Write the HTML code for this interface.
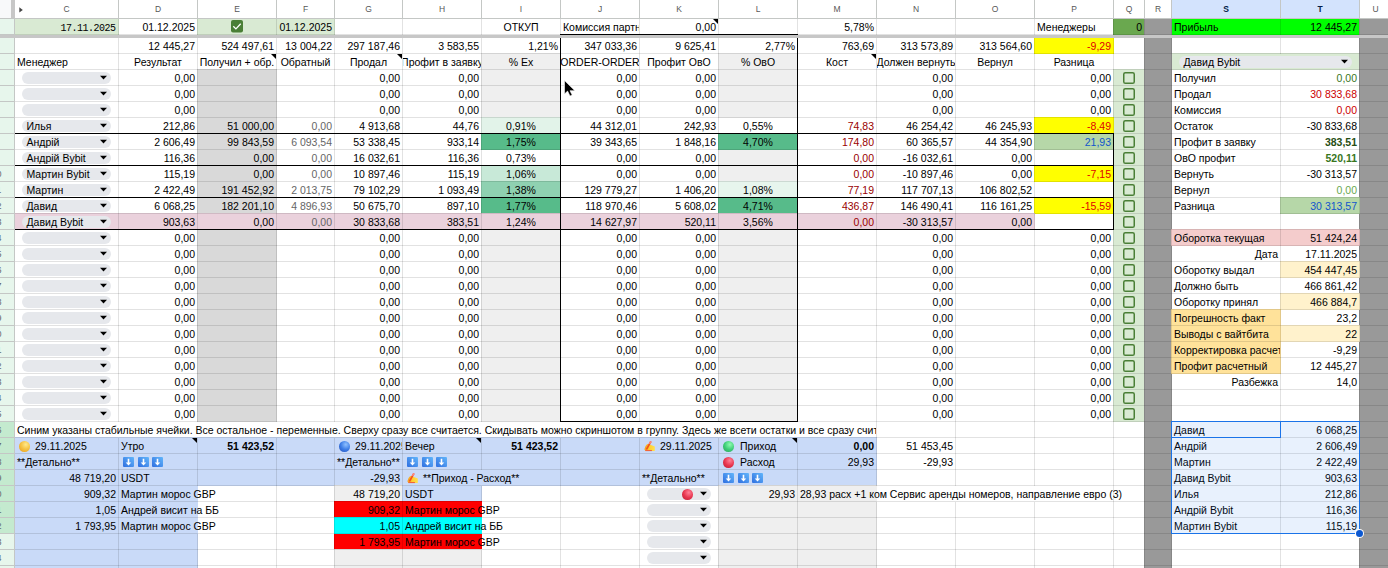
<!DOCTYPE html><html><head><meta charset="utf-8"><style>
*{margin:0;padding:0}
html,body{width:1388px;height:568px;overflow:hidden;background:#fff}
body{position:relative;font-family:"Liberation Sans",sans-serif;font-size:10.5px;color:#000}
body>div,body>svg{position:absolute}
.c{overflow:hidden;white-space:nowrap}
.c span{position:absolute;top:0;line-height:16px;white-space:nowrap}
.h{height:18px;line-height:18px;text-align:center;font-size:8.5px}
</style></head><body><div style="left:14px;top:18px;width:105px;height:17px;background:#d9ead3;"></div>
<div style="left:197px;top:18px;width:80px;height:17px;background:#d9ead3;"></div>
<div style="left:276px;top:18px;width:59px;height:17px;background:#d9ead3;"></div>
<div style="left:1113px;top:18px;width:32px;height:17px;background:#6aa84f;"></div>
<div style="left:1171px;top:18px;width:110px;height:17px;background:#00ff00;"></div>
<div style="left:1280px;top:18px;width:80px;height:17px;background:#00ff00;"></div>
<div style="left:1034px;top:37px;width:80px;height:17px;background:#ffff00;"></div>
<div style="left:1171px;top:53px;width:110px;height:17px;background:#d9ead3;"></div>
<div style="left:1280px;top:53px;width:80px;height:17px;background:#d9ead3;"></div>
<div style="left:481px;top:53px;width:80px;height:17px;background:#efefef;"></div>
<div style="left:718px;top:53px;width:80px;height:17px;background:#efefef;"></div>
<div style="left:197px;top:69px;width:80px;height:17px;background:#d9d9d9;"></div>
<div style="left:197px;top:85px;width:80px;height:17px;background:#d9d9d9;"></div>
<div style="left:197px;top:101px;width:80px;height:17px;background:#d9d9d9;"></div>
<div style="left:197px;top:117px;width:80px;height:17px;background:#d9d9d9;"></div>
<div style="left:197px;top:133px;width:80px;height:17px;background:#d9d9d9;"></div>
<div style="left:197px;top:149px;width:80px;height:17px;background:#d9d9d9;"></div>
<div style="left:197px;top:165px;width:80px;height:17px;background:#d9d9d9;"></div>
<div style="left:197px;top:181px;width:80px;height:17px;background:#d9d9d9;"></div>
<div style="left:197px;top:197px;width:80px;height:17px;background:#d9d9d9;"></div>
<div style="left:197px;top:213px;width:80px;height:17px;background:#ead1dc;"></div>
<div style="left:197px;top:229px;width:80px;height:17px;background:#d9d9d9;"></div>
<div style="left:197px;top:245px;width:80px;height:17px;background:#d9d9d9;"></div>
<div style="left:197px;top:261px;width:80px;height:17px;background:#d9d9d9;"></div>
<div style="left:197px;top:277px;width:80px;height:17px;background:#d9d9d9;"></div>
<div style="left:197px;top:293px;width:80px;height:17px;background:#d9d9d9;"></div>
<div style="left:197px;top:309px;width:80px;height:17px;background:#d9d9d9;"></div>
<div style="left:197px;top:325px;width:80px;height:17px;background:#d9d9d9;"></div>
<div style="left:197px;top:341px;width:80px;height:17px;background:#d9d9d9;"></div>
<div style="left:197px;top:357px;width:80px;height:17px;background:#d9d9d9;"></div>
<div style="left:197px;top:373px;width:80px;height:17px;background:#d9d9d9;"></div>
<div style="left:197px;top:389px;width:80px;height:17px;background:#d9d9d9;"></div>
<div style="left:197px;top:405px;width:80px;height:17px;background:#d9d9d9;"></div>
<div style="left:481px;top:69px;width:80px;height:17px;background:#efefef;"></div>
<div style="left:481px;top:85px;width:80px;height:17px;background:#efefef;"></div>
<div style="left:481px;top:101px;width:80px;height:17px;background:#efefef;"></div>
<div style="left:718px;top:69px;width:80px;height:17px;background:#efefef;"></div>
<div style="left:718px;top:85px;width:80px;height:17px;background:#efefef;"></div>
<div style="left:718px;top:101px;width:80px;height:17px;background:#efefef;"></div>
<div style="left:481px;top:229px;width:80px;height:17px;background:#efefef;"></div>
<div style="left:481px;top:245px;width:80px;height:17px;background:#efefef;"></div>
<div style="left:481px;top:261px;width:80px;height:17px;background:#efefef;"></div>
<div style="left:481px;top:277px;width:80px;height:17px;background:#efefef;"></div>
<div style="left:481px;top:293px;width:80px;height:17px;background:#efefef;"></div>
<div style="left:481px;top:309px;width:80px;height:17px;background:#efefef;"></div>
<div style="left:481px;top:325px;width:80px;height:17px;background:#efefef;"></div>
<div style="left:481px;top:341px;width:80px;height:17px;background:#efefef;"></div>
<div style="left:481px;top:357px;width:80px;height:17px;background:#efefef;"></div>
<div style="left:481px;top:373px;width:80px;height:17px;background:#efefef;"></div>
<div style="left:481px;top:389px;width:80px;height:17px;background:#efefef;"></div>
<div style="left:481px;top:405px;width:80px;height:17px;background:#efefef;"></div>
<div style="left:718px;top:229px;width:80px;height:17px;background:#efefef;"></div>
<div style="left:718px;top:245px;width:80px;height:17px;background:#efefef;"></div>
<div style="left:718px;top:261px;width:80px;height:17px;background:#efefef;"></div>
<div style="left:718px;top:277px;width:80px;height:17px;background:#efefef;"></div>
<div style="left:718px;top:293px;width:80px;height:17px;background:#efefef;"></div>
<div style="left:718px;top:309px;width:80px;height:17px;background:#efefef;"></div>
<div style="left:718px;top:325px;width:80px;height:17px;background:#efefef;"></div>
<div style="left:718px;top:341px;width:80px;height:17px;background:#efefef;"></div>
<div style="left:718px;top:357px;width:80px;height:17px;background:#efefef;"></div>
<div style="left:718px;top:373px;width:80px;height:17px;background:#efefef;"></div>
<div style="left:718px;top:389px;width:80px;height:17px;background:#efefef;"></div>
<div style="left:718px;top:405px;width:80px;height:17px;background:#efefef;"></div>
<div style="left:718px;top:149px;width:80px;height:17px;background:#efefef;"></div>
<div style="left:718px;top:165px;width:80px;height:17px;background:#efefef;"></div>
<div style="left:1113px;top:69px;width:32px;height:17px;background:#d9ead3;"></div>
<div style="left:1113px;top:85px;width:32px;height:17px;background:#d9ead3;"></div>
<div style="left:1113px;top:101px;width:32px;height:17px;background:#d9ead3;"></div>
<div style="left:1113px;top:117px;width:32px;height:17px;background:#d9ead3;"></div>
<div style="left:1113px;top:133px;width:32px;height:17px;background:#d9ead3;"></div>
<div style="left:1113px;top:149px;width:32px;height:17px;background:#d9ead3;"></div>
<div style="left:1113px;top:165px;width:32px;height:17px;background:#d9ead3;"></div>
<div style="left:1113px;top:181px;width:32px;height:17px;background:#d9ead3;"></div>
<div style="left:1113px;top:197px;width:32px;height:17px;background:#d9ead3;"></div>
<div style="left:1113px;top:213px;width:32px;height:17px;background:#d9ead3;"></div>
<div style="left:1113px;top:229px;width:32px;height:17px;background:#d9ead3;"></div>
<div style="left:1113px;top:245px;width:32px;height:17px;background:#d9ead3;"></div>
<div style="left:1113px;top:261px;width:32px;height:17px;background:#d9ead3;"></div>
<div style="left:1113px;top:277px;width:32px;height:17px;background:#d9ead3;"></div>
<div style="left:1113px;top:293px;width:32px;height:17px;background:#d9ead3;"></div>
<div style="left:1113px;top:309px;width:32px;height:17px;background:#d9ead3;"></div>
<div style="left:1113px;top:325px;width:32px;height:17px;background:#d9ead3;"></div>
<div style="left:1113px;top:341px;width:32px;height:17px;background:#d9ead3;"></div>
<div style="left:1113px;top:357px;width:32px;height:17px;background:#d9ead3;"></div>
<div style="left:1113px;top:373px;width:32px;height:17px;background:#d9ead3;"></div>
<div style="left:1113px;top:389px;width:32px;height:17px;background:#d9ead3;"></div>
<div style="left:1113px;top:405px;width:32px;height:17px;background:#d9ead3;"></div>
<div style="left:1144px;top:18px;width:28px;height:17px;background:#999999;"></div>
<div style="left:1144px;top:37px;width:28px;height:17px;background:#999999;"></div>
<div style="left:1144px;top:53px;width:28px;height:17px;background:#999999;"></div>
<div style="left:1144px;top:69px;width:28px;height:17px;background:#999999;"></div>
<div style="left:1144px;top:85px;width:28px;height:17px;background:#999999;"></div>
<div style="left:1144px;top:101px;width:28px;height:17px;background:#999999;"></div>
<div style="left:1144px;top:117px;width:28px;height:17px;background:#999999;"></div>
<div style="left:1144px;top:133px;width:28px;height:17px;background:#999999;"></div>
<div style="left:1144px;top:149px;width:28px;height:17px;background:#999999;"></div>
<div style="left:1144px;top:165px;width:28px;height:17px;background:#999999;"></div>
<div style="left:1144px;top:181px;width:28px;height:17px;background:#999999;"></div>
<div style="left:1144px;top:197px;width:28px;height:17px;background:#999999;"></div>
<div style="left:1144px;top:213px;width:28px;height:17px;background:#999999;"></div>
<div style="left:1144px;top:229px;width:28px;height:17px;background:#999999;"></div>
<div style="left:1144px;top:245px;width:28px;height:17px;background:#999999;"></div>
<div style="left:1144px;top:261px;width:28px;height:17px;background:#999999;"></div>
<div style="left:1144px;top:277px;width:28px;height:17px;background:#999999;"></div>
<div style="left:1144px;top:293px;width:28px;height:17px;background:#999999;"></div>
<div style="left:1144px;top:309px;width:28px;height:17px;background:#999999;"></div>
<div style="left:1144px;top:325px;width:28px;height:17px;background:#999999;"></div>
<div style="left:1144px;top:341px;width:28px;height:17px;background:#999999;"></div>
<div style="left:1144px;top:357px;width:28px;height:17px;background:#999999;"></div>
<div style="left:1144px;top:373px;width:28px;height:17px;background:#999999;"></div>
<div style="left:1144px;top:389px;width:28px;height:17px;background:#999999;"></div>
<div style="left:1144px;top:405px;width:28px;height:17px;background:#999999;"></div>
<div style="left:1144px;top:421px;width:28px;height:17px;background:#999999;"></div>
<div style="left:1144px;top:437px;width:28px;height:17px;background:#999999;"></div>
<div style="left:1144px;top:453px;width:28px;height:17px;background:#999999;"></div>
<div style="left:1144px;top:469px;width:28px;height:17px;background:#999999;"></div>
<div style="left:1144px;top:485px;width:28px;height:17px;background:#999999;"></div>
<div style="left:1144px;top:501px;width:28px;height:17px;background:#999999;"></div>
<div style="left:1144px;top:517px;width:28px;height:17px;background:#999999;"></div>
<div style="left:1144px;top:533px;width:28px;height:17px;background:#999999;"></div>
<div style="left:1144px;top:549px;width:28px;height:17px;background:#999999;"></div>
<div style="left:1144px;top:565px;width:28px;height:17px;background:#999999;"></div>
<div style="left:1359px;top:18px;width:33px;height:17px;background:#999999;"></div>
<div style="left:1359px;top:37px;width:33px;height:17px;background:#999999;"></div>
<div style="left:1359px;top:53px;width:33px;height:17px;background:#999999;"></div>
<div style="left:1359px;top:69px;width:33px;height:17px;background:#999999;"></div>
<div style="left:1359px;top:85px;width:33px;height:17px;background:#999999;"></div>
<div style="left:1359px;top:101px;width:33px;height:17px;background:#999999;"></div>
<div style="left:1359px;top:117px;width:33px;height:17px;background:#999999;"></div>
<div style="left:1359px;top:133px;width:33px;height:17px;background:#999999;"></div>
<div style="left:1359px;top:149px;width:33px;height:17px;background:#999999;"></div>
<div style="left:1359px;top:165px;width:33px;height:17px;background:#999999;"></div>
<div style="left:1359px;top:181px;width:33px;height:17px;background:#999999;"></div>
<div style="left:1359px;top:197px;width:33px;height:17px;background:#999999;"></div>
<div style="left:1359px;top:213px;width:33px;height:17px;background:#999999;"></div>
<div style="left:1359px;top:229px;width:33px;height:17px;background:#999999;"></div>
<div style="left:1359px;top:245px;width:33px;height:17px;background:#999999;"></div>
<div style="left:1359px;top:261px;width:33px;height:17px;background:#999999;"></div>
<div style="left:1359px;top:277px;width:33px;height:17px;background:#999999;"></div>
<div style="left:1359px;top:293px;width:33px;height:17px;background:#999999;"></div>
<div style="left:1359px;top:309px;width:33px;height:17px;background:#999999;"></div>
<div style="left:1359px;top:325px;width:33px;height:17px;background:#999999;"></div>
<div style="left:1359px;top:341px;width:33px;height:17px;background:#999999;"></div>
<div style="left:1359px;top:357px;width:33px;height:17px;background:#999999;"></div>
<div style="left:1359px;top:373px;width:33px;height:17px;background:#999999;"></div>
<div style="left:1359px;top:389px;width:33px;height:17px;background:#999999;"></div>
<div style="left:1359px;top:405px;width:33px;height:17px;background:#999999;"></div>
<div style="left:1359px;top:421px;width:33px;height:17px;background:#999999;"></div>
<div style="left:1359px;top:437px;width:33px;height:17px;background:#999999;"></div>
<div style="left:1359px;top:453px;width:33px;height:17px;background:#999999;"></div>
<div style="left:1359px;top:469px;width:33px;height:17px;background:#999999;"></div>
<div style="left:1359px;top:485px;width:33px;height:17px;background:#999999;"></div>
<div style="left:1359px;top:501px;width:33px;height:17px;background:#999999;"></div>
<div style="left:1359px;top:517px;width:33px;height:17px;background:#999999;"></div>
<div style="left:1359px;top:533px;width:33px;height:17px;background:#999999;"></div>
<div style="left:1359px;top:549px;width:33px;height:17px;background:#999999;"></div>
<div style="left:1359px;top:565px;width:33px;height:17px;background:#999999;"></div>
<div style="left:481px;top:117px;width:80px;height:17px;background:#e2f3e9;"></div>
<div style="left:481px;top:133px;width:80px;height:17px;background:#57bb8a;"></div>
<div style="left:481px;top:165px;width:80px;height:17px;background:#c8e9d8;"></div>
<div style="left:481px;top:181px;width:80px;height:17px;background:#8fd1b1;"></div>
<div style="left:481px;top:197px;width:80px;height:17px;background:#57bb8a;"></div>
<div style="left:718px;top:133px;width:80px;height:17px;background:#57bb8a;"></div>
<div style="left:718px;top:181px;width:80px;height:17px;background:#e7f5ed;"></div>
<div style="left:718px;top:197px;width:80px;height:17px;background:#57bb8a;"></div>
<div style="left:1034px;top:117px;width:80px;height:17px;background:#ffff00;"></div>
<div style="left:1034px;top:165px;width:80px;height:17px;background:#ffff00;"></div>
<div style="left:1034px;top:197px;width:80px;height:17px;background:#ffff00;"></div>
<div style="left:1034px;top:133px;width:80px;height:17px;background:#b6d7a8;"></div>
<div style="left:14px;top:213px;width:105px;height:17px;background:#ead1dc;"></div>
<div style="left:118px;top:213px;width:80px;height:17px;background:#ead1dc;"></div>
<div style="left:276px;top:213px;width:59px;height:17px;background:#ead1dc;"></div>
<div style="left:334px;top:213px;width:69px;height:17px;background:#ead1dc;"></div>
<div style="left:402px;top:213px;width:80px;height:17px;background:#ead1dc;"></div>
<div style="left:481px;top:213px;width:80px;height:17px;background:#ead1dc;"></div>
<div style="left:560px;top:213px;width:80px;height:17px;background:#ead1dc;"></div>
<div style="left:639px;top:213px;width:80px;height:17px;background:#ead1dc;"></div>
<div style="left:718px;top:213px;width:80px;height:17px;background:#ead1dc;"></div>
<div style="left:797px;top:213px;width:80px;height:17px;background:#ead1dc;"></div>
<div style="left:876px;top:213px;width:80px;height:17px;background:#ead1dc;"></div>
<div style="left:955px;top:213px;width:80px;height:17px;background:#ead1dc;"></div>
<div style="left:1280px;top:197px;width:80px;height:17px;background:#b6d7a8;"></div>
<div style="left:1171px;top:229px;width:110px;height:17px;background:#f4cccc;"></div>
<div style="left:1280px;top:229px;width:80px;height:17px;background:#f4cccc;"></div>
<div style="left:1280px;top:261px;width:80px;height:17px;background:#fff2cc;"></div>
<div style="left:1280px;top:293px;width:80px;height:17px;background:#fff2cc;"></div>
<div style="left:1280px;top:325px;width:80px;height:17px;background:#fff2cc;"></div>
<div style="left:1171px;top:309px;width:110px;height:17px;background:#ffe29a;"></div>
<div style="left:1171px;top:325px;width:110px;height:17px;background:#ffe29a;"></div>
<div style="left:1171px;top:341px;width:110px;height:17px;background:#ffe29a;"></div>
<div style="left:1171px;top:357px;width:110px;height:17px;background:#ffe29a;"></div>
<div style="left:14px;top:437px;width:105px;height:17px;background:#c9daf8;"></div>
<div style="left:14px;top:453px;width:105px;height:17px;background:#c9daf8;"></div>
<div style="left:14px;top:469px;width:105px;height:17px;background:#c9daf8;"></div>
<div style="left:118px;top:437px;width:80px;height:17px;background:#c9daf8;"></div>
<div style="left:118px;top:453px;width:80px;height:17px;background:#c9daf8;"></div>
<div style="left:118px;top:469px;width:80px;height:17px;background:#c9daf8;"></div>
<div style="left:197px;top:437px;width:80px;height:17px;background:#c9daf8;"></div>
<div style="left:197px;top:453px;width:80px;height:17px;background:#c9daf8;"></div>
<div style="left:197px;top:469px;width:80px;height:17px;background:#c9daf8;"></div>
<div style="left:276px;top:437px;width:59px;height:17px;background:#c9daf8;"></div>
<div style="left:276px;top:453px;width:59px;height:17px;background:#c9daf8;"></div>
<div style="left:276px;top:469px;width:59px;height:17px;background:#c9daf8;"></div>
<div style="left:334px;top:437px;width:69px;height:17px;background:#c9daf8;"></div>
<div style="left:334px;top:453px;width:69px;height:17px;background:#c9daf8;"></div>
<div style="left:334px;top:469px;width:69px;height:17px;background:#c9daf8;"></div>
<div style="left:402px;top:437px;width:80px;height:17px;background:#c9daf8;"></div>
<div style="left:402px;top:453px;width:80px;height:17px;background:#c9daf8;"></div>
<div style="left:402px;top:469px;width:80px;height:17px;background:#c9daf8;"></div>
<div style="left:481px;top:437px;width:80px;height:17px;background:#c9daf8;"></div>
<div style="left:481px;top:453px;width:80px;height:17px;background:#c9daf8;"></div>
<div style="left:481px;top:469px;width:80px;height:17px;background:#c9daf8;"></div>
<div style="left:560px;top:437px;width:80px;height:17px;background:#c9daf8;"></div>
<div style="left:560px;top:453px;width:80px;height:17px;background:#c9daf8;"></div>
<div style="left:560px;top:469px;width:80px;height:17px;background:#c9daf8;"></div>
<div style="left:639px;top:437px;width:80px;height:17px;background:#c9daf8;"></div>
<div style="left:639px;top:453px;width:80px;height:17px;background:#c9daf8;"></div>
<div style="left:639px;top:469px;width:80px;height:17px;background:#c9daf8;"></div>
<div style="left:718px;top:437px;width:80px;height:17px;background:#c9daf8;"></div>
<div style="left:718px;top:453px;width:80px;height:17px;background:#c9daf8;"></div>
<div style="left:718px;top:469px;width:80px;height:17px;background:#c9daf8;"></div>
<div style="left:797px;top:437px;width:80px;height:17px;background:#c9daf8;"></div>
<div style="left:797px;top:453px;width:80px;height:17px;background:#c9daf8;"></div>
<div style="left:797px;top:469px;width:80px;height:17px;background:#c9daf8;"></div>
<div style="left:14px;top:485px;width:105px;height:17px;background:#c9daf8;"></div>
<div style="left:14px;top:501px;width:105px;height:17px;background:#c9daf8;"></div>
<div style="left:14px;top:517px;width:105px;height:17px;background:#c9daf8;"></div>
<div style="left:14px;top:533px;width:105px;height:17px;background:#c9daf8;"></div>
<div style="left:14px;top:549px;width:105px;height:17px;background:#c9daf8;"></div>
<div style="left:14px;top:565px;width:105px;height:17px;background:#c9daf8;"></div>
<div style="left:118px;top:485px;width:80px;height:17px;background:#c9daf8;"></div>
<div style="left:118px;top:501px;width:80px;height:17px;background:#c9daf8;"></div>
<div style="left:118px;top:517px;width:80px;height:17px;background:#c9daf8;"></div>
<div style="left:118px;top:533px;width:80px;height:17px;background:#c9daf8;"></div>
<div style="left:118px;top:549px;width:80px;height:17px;background:#c9daf8;"></div>
<div style="left:118px;top:565px;width:80px;height:17px;background:#c9daf8;"></div>
<div style="left:334px;top:485px;width:69px;height:17px;background:#efefef;"></div>
<div style="left:402px;top:485px;width:80px;height:17px;background:#c9daf8;"></div>
<div style="left:334px;top:501px;width:69px;height:17px;background:#ff0000;"></div>
<div style="left:334px;top:533px;width:69px;height:17px;background:#ff0000;"></div>
<div style="left:402px;top:501px;width:80px;height:17px;background:#ff0000;"></div>
<div style="left:402px;top:533px;width:80px;height:17px;background:#ff0000;"></div>
<div style="left:334px;top:517px;width:69px;height:17px;background:#00ffff;"></div>
<div style="left:402px;top:517px;width:80px;height:17px;background:#00ffff;"></div>
<div style="left:334px;top:549px;width:69px;height:17px;background:#efefef;"></div>
<div style="left:334px;top:565px;width:69px;height:17px;background:#efefef;"></div>
<div style="left:402px;top:549px;width:80px;height:17px;background:#efefef;"></div>
<div style="left:402px;top:565px;width:80px;height:17px;background:#efefef;"></div>
<div style="left:718px;top:485px;width:80px;height:17px;background:#efefef;"></div>
<div style="left:718px;top:501px;width:80px;height:17px;background:#efefef;"></div>
<div style="left:718px;top:517px;width:80px;height:17px;background:#efefef;"></div>
<div style="left:718px;top:533px;width:80px;height:17px;background:#efefef;"></div>
<div style="left:718px;top:549px;width:80px;height:17px;background:#efefef;"></div>
<div style="left:718px;top:565px;width:80px;height:17px;background:#efefef;"></div>
<div style="left:797px;top:485px;width:80px;height:17px;background:#efefef;"></div>
<div style="left:797px;top:501px;width:80px;height:17px;background:#efefef;"></div>
<div style="left:797px;top:517px;width:80px;height:17px;background:#efefef;"></div>
<div style="left:797px;top:533px;width:80px;height:17px;background:#efefef;"></div>
<div style="left:797px;top:549px;width:80px;height:17px;background:#efefef;"></div>
<div style="left:797px;top:565px;width:80px;height:17px;background:#efefef;"></div>
<div style="left:118px;top:19px;width:1px;height:403px;background:rgba(0,0,0,0.115);"></div>
<div style="left:118px;top:438px;width:1px;height:144px;background:rgba(0,0,0,0.115);"></div>
<div style="left:197px;top:19px;width:1px;height:403px;background:rgba(0,0,0,0.115);"></div>
<div style="left:197px;top:438px;width:1px;height:48px;background:rgba(0,0,0,0.115);"></div>
<div style="left:197px;top:534px;width:1px;height:48px;background:rgba(0,0,0,0.115);"></div>
<div style="left:276px;top:19px;width:1px;height:403px;background:rgba(0,0,0,0.115);"></div>
<div style="left:276px;top:438px;width:1px;height:144px;background:rgba(0,0,0,0.115);"></div>
<div style="left:334px;top:19px;width:1px;height:403px;background:rgba(0,0,0,0.115);"></div>
<div style="left:334px;top:438px;width:1px;height:144px;background:rgba(0,0,0,0.115);"></div>
<div style="left:402px;top:19px;width:1px;height:403px;background:rgba(0,0,0,0.115);"></div>
<div style="left:402px;top:438px;width:1px;height:144px;background:rgba(0,0,0,0.115);"></div>
<div style="left:481px;top:19px;width:1px;height:403px;background:rgba(0,0,0,0.115);"></div>
<div style="left:481px;top:438px;width:1px;height:32px;background:rgba(0,0,0,0.115);"></div>
<div style="left:481px;top:486px;width:1px;height:16px;background:rgba(0,0,0,0.115);"></div>
<div style="left:481px;top:550px;width:1px;height:32px;background:rgba(0,0,0,0.115);"></div>
<div style="left:560px;top:19px;width:1px;height:403px;background:rgba(0,0,0,0.115);"></div>
<div style="left:560px;top:438px;width:1px;height:144px;background:rgba(0,0,0,0.115);"></div>
<div style="left:639px;top:19px;width:1px;height:403px;background:rgba(0,0,0,0.115);"></div>
<div style="left:639px;top:438px;width:1px;height:144px;background:rgba(0,0,0,0.115);"></div>
<div style="left:718px;top:19px;width:1px;height:403px;background:rgba(0,0,0,0.115);"></div>
<div style="left:718px;top:438px;width:1px;height:144px;background:rgba(0,0,0,0.115);"></div>
<div style="left:797px;top:19px;width:1px;height:403px;background:rgba(0,0,0,0.115);"></div>
<div style="left:797px;top:438px;width:1px;height:144px;background:rgba(0,0,0,0.115);"></div>
<div style="left:876px;top:19px;width:1px;height:467px;background:rgba(0,0,0,0.115);"></div>
<div style="left:876px;top:502px;width:1px;height:80px;background:rgba(0,0,0,0.115);"></div>
<div style="left:955px;top:19px;width:1px;height:467px;background:rgba(0,0,0,0.115);"></div>
<div style="left:955px;top:502px;width:1px;height:80px;background:rgba(0,0,0,0.115);"></div>
<div style="left:1034px;top:19px;width:1px;height:467px;background:rgba(0,0,0,0.115);"></div>
<div style="left:1034px;top:502px;width:1px;height:80px;background:rgba(0,0,0,0.115);"></div>
<div style="left:1113px;top:19px;width:1px;height:563px;background:rgba(0,0,0,0.115);"></div>
<div style="left:1144px;top:19px;width:1px;height:563px;background:rgba(0,0,0,0.115);"></div>
<div style="left:1171px;top:19px;width:1px;height:563px;background:rgba(0,0,0,0.115);"></div>
<div style="left:1280px;top:19px;width:1px;height:35px;background:rgba(0,0,0,0.115);"></div>
<div style="left:1280px;top:70px;width:1px;height:512px;background:rgba(0,0,0,0.115);"></div>
<div style="left:1359px;top:19px;width:1px;height:563px;background:rgba(0,0,0,0.115);"></div>
<div style="left:0px;top:34px;width:1388px;height:1px;background:rgba(0,0,0,0.115);"></div>
<div style="left:0px;top:53px;width:1388px;height:1px;background:rgba(0,0,0,0.115);"></div>
<div style="left:0px;top:69px;width:1388px;height:1px;background:rgba(0,0,0,0.115);"></div>
<div style="left:0px;top:85px;width:1388px;height:1px;background:rgba(0,0,0,0.115);"></div>
<div style="left:0px;top:101px;width:1388px;height:1px;background:rgba(0,0,0,0.115);"></div>
<div style="left:0px;top:117px;width:1388px;height:1px;background:rgba(0,0,0,0.115);"></div>
<div style="left:0px;top:133px;width:1388px;height:1px;background:rgba(0,0,0,0.115);"></div>
<div style="left:0px;top:149px;width:1388px;height:1px;background:rgba(0,0,0,0.115);"></div>
<div style="left:0px;top:165px;width:1388px;height:1px;background:rgba(0,0,0,0.115);"></div>
<div style="left:0px;top:181px;width:1388px;height:1px;background:rgba(0,0,0,0.115);"></div>
<div style="left:0px;top:197px;width:1388px;height:1px;background:rgba(0,0,0,0.115);"></div>
<div style="left:0px;top:213px;width:1388px;height:1px;background:rgba(0,0,0,0.115);"></div>
<div style="left:0px;top:229px;width:1388px;height:1px;background:rgba(0,0,0,0.115);"></div>
<div style="left:0px;top:245px;width:1388px;height:1px;background:rgba(0,0,0,0.115);"></div>
<div style="left:0px;top:261px;width:1388px;height:1px;background:rgba(0,0,0,0.115);"></div>
<div style="left:0px;top:277px;width:1388px;height:1px;background:rgba(0,0,0,0.115);"></div>
<div style="left:0px;top:293px;width:1388px;height:1px;background:rgba(0,0,0,0.115);"></div>
<div style="left:0px;top:309px;width:1388px;height:1px;background:rgba(0,0,0,0.115);"></div>
<div style="left:0px;top:325px;width:1388px;height:1px;background:rgba(0,0,0,0.115);"></div>
<div style="left:0px;top:341px;width:1388px;height:1px;background:rgba(0,0,0,0.115);"></div>
<div style="left:0px;top:357px;width:1388px;height:1px;background:rgba(0,0,0,0.115);"></div>
<div style="left:0px;top:373px;width:1388px;height:1px;background:rgba(0,0,0,0.115);"></div>
<div style="left:0px;top:389px;width:1388px;height:1px;background:rgba(0,0,0,0.115);"></div>
<div style="left:0px;top:405px;width:1388px;height:1px;background:rgba(0,0,0,0.115);"></div>
<div style="left:0px;top:421px;width:1388px;height:1px;background:rgba(0,0,0,0.115);"></div>
<div style="left:0px;top:437px;width:1388px;height:1px;background:rgba(0,0,0,0.115);"></div>
<div style="left:0px;top:453px;width:1388px;height:1px;background:rgba(0,0,0,0.115);"></div>
<div style="left:0px;top:469px;width:1388px;height:1px;background:rgba(0,0,0,0.115);"></div>
<div style="left:0px;top:485px;width:1388px;height:1px;background:rgba(0,0,0,0.115);"></div>
<div style="left:0px;top:501px;width:1388px;height:1px;background:rgba(0,0,0,0.115);"></div>
<div style="left:0px;top:517px;width:1388px;height:1px;background:rgba(0,0,0,0.115);"></div>
<div style="left:0px;top:533px;width:1388px;height:1px;background:rgba(0,0,0,0.115);"></div>
<div style="left:0px;top:549px;width:1388px;height:1px;background:rgba(0,0,0,0.115);"></div>
<div style="left:0px;top:565px;width:1388px;height:1px;background:rgba(0,0,0,0.115);"></div>
<div style="left:0px;top:581px;width:1388px;height:1px;background:rgba(0,0,0,0.115);"></div>
<div style="left:560px;top:34px;width:238px;height:1px;background:#000;"></div>
<div style="left:560px;top:34px;width:1px;height:388px;background:#000;"></div>
<div style="left:797px;top:34px;width:1px;height:388px;background:#000;"></div>
<div style="left:560px;top:421px;width:238px;height:1px;background:#000;"></div>
<div style="left:14px;top:133px;width:1100px;height:1px;background:#000;"></div>
<div style="left:14px;top:165px;width:1100px;height:1px;background:#000;"></div>
<div style="left:14px;top:197px;width:1100px;height:1px;background:#000;"></div>
<div style="left:14px;top:229px;width:1100px;height:1px;background:#000;"></div>
<div style="left:1113px;top:133px;width:1px;height:97px;background:#000;"></div>
<div class="c" style="left:15px;top:19px;width:103px;height:15px;"><span style="left:-2000px;width:2103px;text-align:right;padding-right:2.5px;box-sizing:border-box;font-family:'Liberation Mono',monospace;font-size:10px;letter-spacing:-0.5px;top:2px;">17.11.2025</span></div>
<div class="c" style="left:119px;top:19px;width:78px;height:15px;"><span style="left:-2000px;width:2078px;text-align:right;padding-right:2px;box-sizing:border-box;">01.12.2025</span></div>
<div class="c" style="left:277px;top:19px;width:57px;height:15px;"><span style="left:-2000px;width:2057px;text-align:right;padding-right:2px;box-sizing:border-box;">01.12.2025</span></div>
<div class="c" style="left:482px;top:19px;width:78px;height:15px;"><span style="left:-200px;width:478px;text-align:center;">ОТКУП</span></div>
<div class="c" style="left:561px;top:19px;width:78px;height:15px;"><span style="left:0px;width:2000px;text-align:left;padding-left:2px;">Комиссия партн</span></div>
<div class="c" style="left:640px;top:19px;width:78px;height:15px;"><span style="left:-2000px;width:2078px;text-align:right;padding-right:2px;box-sizing:border-box;">0,00</span></div>
<div class="c" style="left:798px;top:19px;width:78px;height:15px;"><span style="left:-2000px;width:2078px;text-align:right;padding-right:2px;box-sizing:border-box;">5,78%</span></div>
<div class="c" style="left:1035px;top:19px;width:78px;height:15px;"><span style="left:0px;width:2000px;text-align:left;padding-left:2px;">Менеджеры</span></div>
<div class="c" style="left:1114px;top:19px;width:30px;height:15px;"><span style="left:-2000px;width:2030px;text-align:right;padding-right:2px;box-sizing:border-box;">0</span></div>
<div class="c" style="left:1172px;top:19px;width:108px;height:15px;"><span style="left:0px;width:2000px;text-align:left;padding-left:2px;">Прибыль</span></div>
<div class="c" style="left:1281px;top:19px;width:78px;height:15px;"><span style="left:-2000px;width:2078px;text-align:right;padding-right:2px;box-sizing:border-box;">12 445,27</span></div>
<div class="c" style="left:119px;top:38px;width:78px;height:15px;"><span style="left:-2000px;width:2078px;text-align:right;padding-right:2px;box-sizing:border-box;">12 445,27</span></div>
<div class="c" style="left:198px;top:38px;width:78px;height:15px;"><span style="left:-2000px;width:2078px;text-align:right;padding-right:2px;box-sizing:border-box;">524 497,61</span></div>
<div class="c" style="left:277px;top:38px;width:57px;height:15px;"><span style="left:-2000px;width:2057px;text-align:right;padding-right:2px;box-sizing:border-box;">13 004,22</span></div>
<div class="c" style="left:335px;top:38px;width:67px;height:15px;"><span style="left:-2000px;width:2067px;text-align:right;padding-right:2px;box-sizing:border-box;">297 187,46</span></div>
<div class="c" style="left:403px;top:38px;width:78px;height:15px;"><span style="left:-2000px;width:2078px;text-align:right;padding-right:2px;box-sizing:border-box;">3 583,55</span></div>
<div class="c" style="left:482px;top:38px;width:78px;height:15px;"><span style="left:-2000px;width:2078px;text-align:right;padding-right:2px;box-sizing:border-box;">1,21%</span></div>
<div class="c" style="left:561px;top:38px;width:78px;height:15px;"><span style="left:-2000px;width:2078px;text-align:right;padding-right:2px;box-sizing:border-box;">347 033,36</span></div>
<div class="c" style="left:640px;top:38px;width:78px;height:15px;"><span style="left:-2000px;width:2078px;text-align:right;padding-right:2px;box-sizing:border-box;">9 625,41</span></div>
<div class="c" style="left:719px;top:38px;width:78px;height:15px;"><span style="left:-2000px;width:2078px;text-align:right;padding-right:2px;box-sizing:border-box;">2,77%</span></div>
<div class="c" style="left:798px;top:38px;width:78px;height:15px;"><span style="left:-2000px;width:2078px;text-align:right;padding-right:2px;box-sizing:border-box;">763,69</span></div>
<div class="c" style="left:877px;top:38px;width:78px;height:15px;"><span style="left:-2000px;width:2078px;text-align:right;padding-right:2px;box-sizing:border-box;">313 573,89</span></div>
<div class="c" style="left:956px;top:38px;width:78px;height:15px;"><span style="left:-2000px;width:2078px;text-align:right;padding-right:2px;box-sizing:border-box;">313 564,60</span></div>
<div class="c" style="left:1035px;top:38px;width:78px;height:15px;"><span style="left:-2000px;width:2078px;text-align:right;padding-right:2px;box-sizing:border-box;color:#e00000;">-9,29</span></div>
<div class="c" style="left:15px;top:54px;width:103px;height:15px;"><span style="left:0px;width:2000px;text-align:left;padding-left:2px;">Менеджер</span></div>
<div class="c" style="left:119px;top:54px;width:78px;height:15px;"><span style="left:-200px;width:478px;text-align:center;">Результат</span></div>
<div class="c" style="left:198px;top:54px;width:78px;height:15px;"><span style="left:-200px;width:478px;text-align:center;">Получил + обр.</span></div>
<div class="c" style="left:277px;top:54px;width:57px;height:15px;"><span style="left:-200px;width:457px;text-align:center;">Обратный</span></div>
<div class="c" style="left:335px;top:54px;width:67px;height:15px;"><span style="left:-200px;width:467px;text-align:center;">Продал</span></div>
<div class="c" style="left:403px;top:54px;width:78px;height:15px;"><span style="left:-200px;width:478px;text-align:center;">Профит в заявку</span></div>
<div class="c" style="left:482px;top:54px;width:78px;height:15px;"><span style="left:-200px;width:478px;text-align:center;">% Ex</span></div>
<div class="c" style="left:561px;top:54px;width:78px;height:15px;"><span style="left:-200px;width:478px;text-align:center;">ORDER-ORDER</span></div>
<div class="c" style="left:640px;top:54px;width:78px;height:15px;"><span style="left:-200px;width:478px;text-align:center;">Профит ОвО</span></div>
<div class="c" style="left:719px;top:54px;width:78px;height:15px;"><span style="left:-200px;width:478px;text-align:center;">% ОвО</span></div>
<div class="c" style="left:798px;top:54px;width:78px;height:15px;"><span style="left:-200px;width:478px;text-align:center;">Кост</span></div>
<div class="c" style="left:877px;top:54px;width:78px;height:15px;"><span style="left:-200px;width:478px;text-align:center;">Должен вернуть</span></div>
<div class="c" style="left:956px;top:54px;width:78px;height:15px;"><span style="left:-200px;width:478px;text-align:center;">Вернул</span></div>
<div class="c" style="left:1035px;top:54px;width:78px;height:15px;"><span style="left:-200px;width:478px;text-align:center;">Разница</span></div>
<div class="c" style="left:119px;top:70px;width:78px;height:15px;"><span style="left:-2000px;width:2078px;text-align:right;padding-right:2px;box-sizing:border-box;">0,00</span></div>
<div class="c" style="left:335px;top:70px;width:67px;height:15px;"><span style="left:-2000px;width:2067px;text-align:right;padding-right:2px;box-sizing:border-box;">0,00</span></div>
<div class="c" style="left:403px;top:70px;width:78px;height:15px;"><span style="left:-2000px;width:2078px;text-align:right;padding-right:2px;box-sizing:border-box;">0,00</span></div>
<div class="c" style="left:561px;top:70px;width:78px;height:15px;"><span style="left:-2000px;width:2078px;text-align:right;padding-right:2px;box-sizing:border-box;">0,00</span></div>
<div class="c" style="left:640px;top:70px;width:78px;height:15px;"><span style="left:-2000px;width:2078px;text-align:right;padding-right:2px;box-sizing:border-box;">0,00</span></div>
<div class="c" style="left:877px;top:70px;width:78px;height:15px;"><span style="left:-2000px;width:2078px;text-align:right;padding-right:2px;box-sizing:border-box;">0,00</span></div>
<div class="c" style="left:1035px;top:70px;width:78px;height:15px;"><span style="left:-2000px;width:2078px;text-align:right;padding-right:2px;box-sizing:border-box;">0,00</span></div>
<div class="c" style="left:119px;top:86px;width:78px;height:15px;"><span style="left:-2000px;width:2078px;text-align:right;padding-right:2px;box-sizing:border-box;">0,00</span></div>
<div class="c" style="left:335px;top:86px;width:67px;height:15px;"><span style="left:-2000px;width:2067px;text-align:right;padding-right:2px;box-sizing:border-box;">0,00</span></div>
<div class="c" style="left:403px;top:86px;width:78px;height:15px;"><span style="left:-2000px;width:2078px;text-align:right;padding-right:2px;box-sizing:border-box;">0,00</span></div>
<div class="c" style="left:561px;top:86px;width:78px;height:15px;"><span style="left:-2000px;width:2078px;text-align:right;padding-right:2px;box-sizing:border-box;">0,00</span></div>
<div class="c" style="left:640px;top:86px;width:78px;height:15px;"><span style="left:-2000px;width:2078px;text-align:right;padding-right:2px;box-sizing:border-box;">0,00</span></div>
<div class="c" style="left:877px;top:86px;width:78px;height:15px;"><span style="left:-2000px;width:2078px;text-align:right;padding-right:2px;box-sizing:border-box;">0,00</span></div>
<div class="c" style="left:1035px;top:86px;width:78px;height:15px;"><span style="left:-2000px;width:2078px;text-align:right;padding-right:2px;box-sizing:border-box;">0,00</span></div>
<div class="c" style="left:119px;top:102px;width:78px;height:15px;"><span style="left:-2000px;width:2078px;text-align:right;padding-right:2px;box-sizing:border-box;">0,00</span></div>
<div class="c" style="left:335px;top:102px;width:67px;height:15px;"><span style="left:-2000px;width:2067px;text-align:right;padding-right:2px;box-sizing:border-box;">0,00</span></div>
<div class="c" style="left:403px;top:102px;width:78px;height:15px;"><span style="left:-2000px;width:2078px;text-align:right;padding-right:2px;box-sizing:border-box;">0,00</span></div>
<div class="c" style="left:561px;top:102px;width:78px;height:15px;"><span style="left:-2000px;width:2078px;text-align:right;padding-right:2px;box-sizing:border-box;">0,00</span></div>
<div class="c" style="left:640px;top:102px;width:78px;height:15px;"><span style="left:-2000px;width:2078px;text-align:right;padding-right:2px;box-sizing:border-box;">0,00</span></div>
<div class="c" style="left:877px;top:102px;width:78px;height:15px;"><span style="left:-2000px;width:2078px;text-align:right;padding-right:2px;box-sizing:border-box;">0,00</span></div>
<div class="c" style="left:1035px;top:102px;width:78px;height:15px;"><span style="left:-2000px;width:2078px;text-align:right;padding-right:2px;box-sizing:border-box;">0,00</span></div>
<div class="c" style="left:119px;top:230px;width:78px;height:15px;"><span style="left:-2000px;width:2078px;text-align:right;padding-right:2px;box-sizing:border-box;">0,00</span></div>
<div class="c" style="left:335px;top:230px;width:67px;height:15px;"><span style="left:-2000px;width:2067px;text-align:right;padding-right:2px;box-sizing:border-box;">0,00</span></div>
<div class="c" style="left:403px;top:230px;width:78px;height:15px;"><span style="left:-2000px;width:2078px;text-align:right;padding-right:2px;box-sizing:border-box;">0,00</span></div>
<div class="c" style="left:561px;top:230px;width:78px;height:15px;"><span style="left:-2000px;width:2078px;text-align:right;padding-right:2px;box-sizing:border-box;">0,00</span></div>
<div class="c" style="left:640px;top:230px;width:78px;height:15px;"><span style="left:-2000px;width:2078px;text-align:right;padding-right:2px;box-sizing:border-box;">0,00</span></div>
<div class="c" style="left:877px;top:230px;width:78px;height:15px;"><span style="left:-2000px;width:2078px;text-align:right;padding-right:2px;box-sizing:border-box;">0,00</span></div>
<div class="c" style="left:1035px;top:230px;width:78px;height:15px;"><span style="left:-2000px;width:2078px;text-align:right;padding-right:2px;box-sizing:border-box;">0,00</span></div>
<div class="c" style="left:119px;top:246px;width:78px;height:15px;"><span style="left:-2000px;width:2078px;text-align:right;padding-right:2px;box-sizing:border-box;">0,00</span></div>
<div class="c" style="left:335px;top:246px;width:67px;height:15px;"><span style="left:-2000px;width:2067px;text-align:right;padding-right:2px;box-sizing:border-box;">0,00</span></div>
<div class="c" style="left:403px;top:246px;width:78px;height:15px;"><span style="left:-2000px;width:2078px;text-align:right;padding-right:2px;box-sizing:border-box;">0,00</span></div>
<div class="c" style="left:561px;top:246px;width:78px;height:15px;"><span style="left:-2000px;width:2078px;text-align:right;padding-right:2px;box-sizing:border-box;">0,00</span></div>
<div class="c" style="left:640px;top:246px;width:78px;height:15px;"><span style="left:-2000px;width:2078px;text-align:right;padding-right:2px;box-sizing:border-box;">0,00</span></div>
<div class="c" style="left:877px;top:246px;width:78px;height:15px;"><span style="left:-2000px;width:2078px;text-align:right;padding-right:2px;box-sizing:border-box;">0,00</span></div>
<div class="c" style="left:1035px;top:246px;width:78px;height:15px;"><span style="left:-2000px;width:2078px;text-align:right;padding-right:2px;box-sizing:border-box;">0,00</span></div>
<div class="c" style="left:119px;top:262px;width:78px;height:15px;"><span style="left:-2000px;width:2078px;text-align:right;padding-right:2px;box-sizing:border-box;">0,00</span></div>
<div class="c" style="left:335px;top:262px;width:67px;height:15px;"><span style="left:-2000px;width:2067px;text-align:right;padding-right:2px;box-sizing:border-box;">0,00</span></div>
<div class="c" style="left:403px;top:262px;width:78px;height:15px;"><span style="left:-2000px;width:2078px;text-align:right;padding-right:2px;box-sizing:border-box;">0,00</span></div>
<div class="c" style="left:561px;top:262px;width:78px;height:15px;"><span style="left:-2000px;width:2078px;text-align:right;padding-right:2px;box-sizing:border-box;">0,00</span></div>
<div class="c" style="left:640px;top:262px;width:78px;height:15px;"><span style="left:-2000px;width:2078px;text-align:right;padding-right:2px;box-sizing:border-box;">0,00</span></div>
<div class="c" style="left:877px;top:262px;width:78px;height:15px;"><span style="left:-2000px;width:2078px;text-align:right;padding-right:2px;box-sizing:border-box;">0,00</span></div>
<div class="c" style="left:1035px;top:262px;width:78px;height:15px;"><span style="left:-2000px;width:2078px;text-align:right;padding-right:2px;box-sizing:border-box;">0,00</span></div>
<div class="c" style="left:119px;top:278px;width:78px;height:15px;"><span style="left:-2000px;width:2078px;text-align:right;padding-right:2px;box-sizing:border-box;">0,00</span></div>
<div class="c" style="left:335px;top:278px;width:67px;height:15px;"><span style="left:-2000px;width:2067px;text-align:right;padding-right:2px;box-sizing:border-box;">0,00</span></div>
<div class="c" style="left:403px;top:278px;width:78px;height:15px;"><span style="left:-2000px;width:2078px;text-align:right;padding-right:2px;box-sizing:border-box;">0,00</span></div>
<div class="c" style="left:561px;top:278px;width:78px;height:15px;"><span style="left:-2000px;width:2078px;text-align:right;padding-right:2px;box-sizing:border-box;">0,00</span></div>
<div class="c" style="left:640px;top:278px;width:78px;height:15px;"><span style="left:-2000px;width:2078px;text-align:right;padding-right:2px;box-sizing:border-box;">0,00</span></div>
<div class="c" style="left:877px;top:278px;width:78px;height:15px;"><span style="left:-2000px;width:2078px;text-align:right;padding-right:2px;box-sizing:border-box;">0,00</span></div>
<div class="c" style="left:1035px;top:278px;width:78px;height:15px;"><span style="left:-2000px;width:2078px;text-align:right;padding-right:2px;box-sizing:border-box;">0,00</span></div>
<div class="c" style="left:119px;top:294px;width:78px;height:15px;"><span style="left:-2000px;width:2078px;text-align:right;padding-right:2px;box-sizing:border-box;">0,00</span></div>
<div class="c" style="left:335px;top:294px;width:67px;height:15px;"><span style="left:-2000px;width:2067px;text-align:right;padding-right:2px;box-sizing:border-box;">0,00</span></div>
<div class="c" style="left:403px;top:294px;width:78px;height:15px;"><span style="left:-2000px;width:2078px;text-align:right;padding-right:2px;box-sizing:border-box;">0,00</span></div>
<div class="c" style="left:561px;top:294px;width:78px;height:15px;"><span style="left:-2000px;width:2078px;text-align:right;padding-right:2px;box-sizing:border-box;">0,00</span></div>
<div class="c" style="left:640px;top:294px;width:78px;height:15px;"><span style="left:-2000px;width:2078px;text-align:right;padding-right:2px;box-sizing:border-box;">0,00</span></div>
<div class="c" style="left:877px;top:294px;width:78px;height:15px;"><span style="left:-2000px;width:2078px;text-align:right;padding-right:2px;box-sizing:border-box;">0,00</span></div>
<div class="c" style="left:1035px;top:294px;width:78px;height:15px;"><span style="left:-2000px;width:2078px;text-align:right;padding-right:2px;box-sizing:border-box;">0,00</span></div>
<div class="c" style="left:119px;top:310px;width:78px;height:15px;"><span style="left:-2000px;width:2078px;text-align:right;padding-right:2px;box-sizing:border-box;">0,00</span></div>
<div class="c" style="left:335px;top:310px;width:67px;height:15px;"><span style="left:-2000px;width:2067px;text-align:right;padding-right:2px;box-sizing:border-box;">0,00</span></div>
<div class="c" style="left:403px;top:310px;width:78px;height:15px;"><span style="left:-2000px;width:2078px;text-align:right;padding-right:2px;box-sizing:border-box;">0,00</span></div>
<div class="c" style="left:561px;top:310px;width:78px;height:15px;"><span style="left:-2000px;width:2078px;text-align:right;padding-right:2px;box-sizing:border-box;">0,00</span></div>
<div class="c" style="left:640px;top:310px;width:78px;height:15px;"><span style="left:-2000px;width:2078px;text-align:right;padding-right:2px;box-sizing:border-box;">0,00</span></div>
<div class="c" style="left:877px;top:310px;width:78px;height:15px;"><span style="left:-2000px;width:2078px;text-align:right;padding-right:2px;box-sizing:border-box;">0,00</span></div>
<div class="c" style="left:1035px;top:310px;width:78px;height:15px;"><span style="left:-2000px;width:2078px;text-align:right;padding-right:2px;box-sizing:border-box;">0,00</span></div>
<div class="c" style="left:119px;top:326px;width:78px;height:15px;"><span style="left:-2000px;width:2078px;text-align:right;padding-right:2px;box-sizing:border-box;">0,00</span></div>
<div class="c" style="left:335px;top:326px;width:67px;height:15px;"><span style="left:-2000px;width:2067px;text-align:right;padding-right:2px;box-sizing:border-box;">0,00</span></div>
<div class="c" style="left:403px;top:326px;width:78px;height:15px;"><span style="left:-2000px;width:2078px;text-align:right;padding-right:2px;box-sizing:border-box;">0,00</span></div>
<div class="c" style="left:561px;top:326px;width:78px;height:15px;"><span style="left:-2000px;width:2078px;text-align:right;padding-right:2px;box-sizing:border-box;">0,00</span></div>
<div class="c" style="left:640px;top:326px;width:78px;height:15px;"><span style="left:-2000px;width:2078px;text-align:right;padding-right:2px;box-sizing:border-box;">0,00</span></div>
<div class="c" style="left:877px;top:326px;width:78px;height:15px;"><span style="left:-2000px;width:2078px;text-align:right;padding-right:2px;box-sizing:border-box;">0,00</span></div>
<div class="c" style="left:1035px;top:326px;width:78px;height:15px;"><span style="left:-2000px;width:2078px;text-align:right;padding-right:2px;box-sizing:border-box;">0,00</span></div>
<div class="c" style="left:119px;top:342px;width:78px;height:15px;"><span style="left:-2000px;width:2078px;text-align:right;padding-right:2px;box-sizing:border-box;">0,00</span></div>
<div class="c" style="left:335px;top:342px;width:67px;height:15px;"><span style="left:-2000px;width:2067px;text-align:right;padding-right:2px;box-sizing:border-box;">0,00</span></div>
<div class="c" style="left:403px;top:342px;width:78px;height:15px;"><span style="left:-2000px;width:2078px;text-align:right;padding-right:2px;box-sizing:border-box;">0,00</span></div>
<div class="c" style="left:561px;top:342px;width:78px;height:15px;"><span style="left:-2000px;width:2078px;text-align:right;padding-right:2px;box-sizing:border-box;">0,00</span></div>
<div class="c" style="left:640px;top:342px;width:78px;height:15px;"><span style="left:-2000px;width:2078px;text-align:right;padding-right:2px;box-sizing:border-box;">0,00</span></div>
<div class="c" style="left:877px;top:342px;width:78px;height:15px;"><span style="left:-2000px;width:2078px;text-align:right;padding-right:2px;box-sizing:border-box;">0,00</span></div>
<div class="c" style="left:1035px;top:342px;width:78px;height:15px;"><span style="left:-2000px;width:2078px;text-align:right;padding-right:2px;box-sizing:border-box;">0,00</span></div>
<div class="c" style="left:119px;top:358px;width:78px;height:15px;"><span style="left:-2000px;width:2078px;text-align:right;padding-right:2px;box-sizing:border-box;">0,00</span></div>
<div class="c" style="left:335px;top:358px;width:67px;height:15px;"><span style="left:-2000px;width:2067px;text-align:right;padding-right:2px;box-sizing:border-box;">0,00</span></div>
<div class="c" style="left:403px;top:358px;width:78px;height:15px;"><span style="left:-2000px;width:2078px;text-align:right;padding-right:2px;box-sizing:border-box;">0,00</span></div>
<div class="c" style="left:561px;top:358px;width:78px;height:15px;"><span style="left:-2000px;width:2078px;text-align:right;padding-right:2px;box-sizing:border-box;">0,00</span></div>
<div class="c" style="left:640px;top:358px;width:78px;height:15px;"><span style="left:-2000px;width:2078px;text-align:right;padding-right:2px;box-sizing:border-box;">0,00</span></div>
<div class="c" style="left:877px;top:358px;width:78px;height:15px;"><span style="left:-2000px;width:2078px;text-align:right;padding-right:2px;box-sizing:border-box;">0,00</span></div>
<div class="c" style="left:1035px;top:358px;width:78px;height:15px;"><span style="left:-2000px;width:2078px;text-align:right;padding-right:2px;box-sizing:border-box;">0,00</span></div>
<div class="c" style="left:119px;top:374px;width:78px;height:15px;"><span style="left:-2000px;width:2078px;text-align:right;padding-right:2px;box-sizing:border-box;">0,00</span></div>
<div class="c" style="left:335px;top:374px;width:67px;height:15px;"><span style="left:-2000px;width:2067px;text-align:right;padding-right:2px;box-sizing:border-box;">0,00</span></div>
<div class="c" style="left:403px;top:374px;width:78px;height:15px;"><span style="left:-2000px;width:2078px;text-align:right;padding-right:2px;box-sizing:border-box;">0,00</span></div>
<div class="c" style="left:561px;top:374px;width:78px;height:15px;"><span style="left:-2000px;width:2078px;text-align:right;padding-right:2px;box-sizing:border-box;">0,00</span></div>
<div class="c" style="left:640px;top:374px;width:78px;height:15px;"><span style="left:-2000px;width:2078px;text-align:right;padding-right:2px;box-sizing:border-box;">0,00</span></div>
<div class="c" style="left:877px;top:374px;width:78px;height:15px;"><span style="left:-2000px;width:2078px;text-align:right;padding-right:2px;box-sizing:border-box;">0,00</span></div>
<div class="c" style="left:1035px;top:374px;width:78px;height:15px;"><span style="left:-2000px;width:2078px;text-align:right;padding-right:2px;box-sizing:border-box;">0,00</span></div>
<div class="c" style="left:119px;top:390px;width:78px;height:15px;"><span style="left:-2000px;width:2078px;text-align:right;padding-right:2px;box-sizing:border-box;">0,00</span></div>
<div class="c" style="left:335px;top:390px;width:67px;height:15px;"><span style="left:-2000px;width:2067px;text-align:right;padding-right:2px;box-sizing:border-box;">0,00</span></div>
<div class="c" style="left:403px;top:390px;width:78px;height:15px;"><span style="left:-2000px;width:2078px;text-align:right;padding-right:2px;box-sizing:border-box;">0,00</span></div>
<div class="c" style="left:561px;top:390px;width:78px;height:15px;"><span style="left:-2000px;width:2078px;text-align:right;padding-right:2px;box-sizing:border-box;">0,00</span></div>
<div class="c" style="left:640px;top:390px;width:78px;height:15px;"><span style="left:-2000px;width:2078px;text-align:right;padding-right:2px;box-sizing:border-box;">0,00</span></div>
<div class="c" style="left:877px;top:390px;width:78px;height:15px;"><span style="left:-2000px;width:2078px;text-align:right;padding-right:2px;box-sizing:border-box;">0,00</span></div>
<div class="c" style="left:1035px;top:390px;width:78px;height:15px;"><span style="left:-2000px;width:2078px;text-align:right;padding-right:2px;box-sizing:border-box;">0,00</span></div>
<div class="c" style="left:119px;top:406px;width:78px;height:15px;"><span style="left:-2000px;width:2078px;text-align:right;padding-right:2px;box-sizing:border-box;">0,00</span></div>
<div class="c" style="left:335px;top:406px;width:67px;height:15px;"><span style="left:-2000px;width:2067px;text-align:right;padding-right:2px;box-sizing:border-box;">0,00</span></div>
<div class="c" style="left:403px;top:406px;width:78px;height:15px;"><span style="left:-2000px;width:2078px;text-align:right;padding-right:2px;box-sizing:border-box;">0,00</span></div>
<div class="c" style="left:561px;top:406px;width:78px;height:15px;"><span style="left:-2000px;width:2078px;text-align:right;padding-right:2px;box-sizing:border-box;">0,00</span></div>
<div class="c" style="left:640px;top:406px;width:78px;height:15px;"><span style="left:-2000px;width:2078px;text-align:right;padding-right:2px;box-sizing:border-box;">0,00</span></div>
<div class="c" style="left:877px;top:406px;width:78px;height:15px;"><span style="left:-2000px;width:2078px;text-align:right;padding-right:2px;box-sizing:border-box;">0,00</span></div>
<div class="c" style="left:1035px;top:406px;width:78px;height:15px;"><span style="left:-2000px;width:2078px;text-align:right;padding-right:2px;box-sizing:border-box;">0,00</span></div>
<div class="c" style="left:119px;top:118px;width:78px;height:15px;"><span style="left:-2000px;width:2078px;text-align:right;padding-right:2px;box-sizing:border-box;">212,86</span></div>
<div class="c" style="left:198px;top:118px;width:78px;height:15px;"><span style="left:-2000px;width:2078px;text-align:right;padding-right:2px;box-sizing:border-box;">51 000,00</span></div>
<div class="c" style="left:277px;top:118px;width:57px;height:15px;"><span style="left:-2000px;width:2057px;text-align:right;padding-right:2px;box-sizing:border-box;color:#666666;">0,00</span></div>
<div class="c" style="left:335px;top:118px;width:67px;height:15px;"><span style="left:-2000px;width:2067px;text-align:right;padding-right:2px;box-sizing:border-box;">4 913,68</span></div>
<div class="c" style="left:403px;top:118px;width:78px;height:15px;"><span style="left:-2000px;width:2078px;text-align:right;padding-right:2px;box-sizing:border-box;">44,76</span></div>
<div class="c" style="left:482px;top:118px;width:78px;height:15px;"><span style="left:-200px;width:478px;text-align:center;">0,91%</span></div>
<div class="c" style="left:561px;top:118px;width:78px;height:15px;"><span style="left:-2000px;width:2078px;text-align:right;padding-right:2px;box-sizing:border-box;">44 312,01</span></div>
<div class="c" style="left:640px;top:118px;width:78px;height:15px;"><span style="left:-2000px;width:2078px;text-align:right;padding-right:2px;box-sizing:border-box;">242,93</span></div>
<div class="c" style="left:719px;top:118px;width:78px;height:15px;"><span style="left:-200px;width:478px;text-align:center;">0,55%</span></div>
<div class="c" style="left:798px;top:118px;width:78px;height:15px;"><span style="left:-2000px;width:2078px;text-align:right;padding-right:2px;box-sizing:border-box;color:#990000;">74,83</span></div>
<div class="c" style="left:877px;top:118px;width:78px;height:15px;"><span style="left:-2000px;width:2078px;text-align:right;padding-right:2px;box-sizing:border-box;">46 254,42</span></div>
<div class="c" style="left:956px;top:118px;width:78px;height:15px;"><span style="left:-2000px;width:2078px;text-align:right;padding-right:2px;box-sizing:border-box;">46 245,93</span></div>
<div class="c" style="left:1035px;top:118px;width:78px;height:15px;"><span style="left:-2000px;width:2078px;text-align:right;padding-right:2px;box-sizing:border-box;color:#e00000;">-8,49</span></div>
<div class="c" style="left:119px;top:134px;width:78px;height:15px;"><span style="left:-2000px;width:2078px;text-align:right;padding-right:2px;box-sizing:border-box;">2 606,49</span></div>
<div class="c" style="left:198px;top:134px;width:78px;height:15px;"><span style="left:-2000px;width:2078px;text-align:right;padding-right:2px;box-sizing:border-box;">99 843,59</span></div>
<div class="c" style="left:277px;top:134px;width:57px;height:15px;"><span style="left:-2000px;width:2057px;text-align:right;padding-right:2px;box-sizing:border-box;color:#666666;">6 093,54</span></div>
<div class="c" style="left:335px;top:134px;width:67px;height:15px;"><span style="left:-2000px;width:2067px;text-align:right;padding-right:2px;box-sizing:border-box;">53 338,45</span></div>
<div class="c" style="left:403px;top:134px;width:78px;height:15px;"><span style="left:-2000px;width:2078px;text-align:right;padding-right:2px;box-sizing:border-box;">933,14</span></div>
<div class="c" style="left:482px;top:134px;width:78px;height:15px;"><span style="left:-200px;width:478px;text-align:center;">1,75%</span></div>
<div class="c" style="left:561px;top:134px;width:78px;height:15px;"><span style="left:-2000px;width:2078px;text-align:right;padding-right:2px;box-sizing:border-box;">39 343,65</span></div>
<div class="c" style="left:640px;top:134px;width:78px;height:15px;"><span style="left:-2000px;width:2078px;text-align:right;padding-right:2px;box-sizing:border-box;">1 848,16</span></div>
<div class="c" style="left:719px;top:134px;width:78px;height:15px;"><span style="left:-200px;width:478px;text-align:center;">4,70%</span></div>
<div class="c" style="left:798px;top:134px;width:78px;height:15px;"><span style="left:-2000px;width:2078px;text-align:right;padding-right:2px;box-sizing:border-box;color:#990000;">174,80</span></div>
<div class="c" style="left:877px;top:134px;width:78px;height:15px;"><span style="left:-2000px;width:2078px;text-align:right;padding-right:2px;box-sizing:border-box;">60 365,57</span></div>
<div class="c" style="left:956px;top:134px;width:78px;height:15px;"><span style="left:-2000px;width:2078px;text-align:right;padding-right:2px;box-sizing:border-box;">44 354,90</span></div>
<div class="c" style="left:1035px;top:134px;width:78px;height:15px;"><span style="left:-2000px;width:2078px;text-align:right;padding-right:2px;box-sizing:border-box;color:#1155cc;">21,93</span></div>
<div class="c" style="left:119px;top:150px;width:78px;height:15px;"><span style="left:-2000px;width:2078px;text-align:right;padding-right:2px;box-sizing:border-box;">116,36</span></div>
<div class="c" style="left:198px;top:150px;width:78px;height:15px;"><span style="left:-2000px;width:2078px;text-align:right;padding-right:2px;box-sizing:border-box;">0,00</span></div>
<div class="c" style="left:277px;top:150px;width:57px;height:15px;"><span style="left:-2000px;width:2057px;text-align:right;padding-right:2px;box-sizing:border-box;color:#666666;">0,00</span></div>
<div class="c" style="left:335px;top:150px;width:67px;height:15px;"><span style="left:-2000px;width:2067px;text-align:right;padding-right:2px;box-sizing:border-box;">16 032,61</span></div>
<div class="c" style="left:403px;top:150px;width:78px;height:15px;"><span style="left:-2000px;width:2078px;text-align:right;padding-right:2px;box-sizing:border-box;">116,36</span></div>
<div class="c" style="left:482px;top:150px;width:78px;height:15px;"><span style="left:-200px;width:478px;text-align:center;">0,73%</span></div>
<div class="c" style="left:561px;top:150px;width:78px;height:15px;"><span style="left:-2000px;width:2078px;text-align:right;padding-right:2px;box-sizing:border-box;">0,00</span></div>
<div class="c" style="left:640px;top:150px;width:78px;height:15px;"><span style="left:-2000px;width:2078px;text-align:right;padding-right:2px;box-sizing:border-box;">0,00</span></div>
<div class="c" style="left:798px;top:150px;width:78px;height:15px;"><span style="left:-2000px;width:2078px;text-align:right;padding-right:2px;box-sizing:border-box;color:#990000;">0,00</span></div>
<div class="c" style="left:877px;top:150px;width:78px;height:15px;"><span style="left:-2000px;width:2078px;text-align:right;padding-right:2px;box-sizing:border-box;">-16 032,61</span></div>
<div class="c" style="left:956px;top:150px;width:78px;height:15px;"><span style="left:-2000px;width:2078px;text-align:right;padding-right:2px;box-sizing:border-box;">0,00</span></div>
<div class="c" style="left:119px;top:166px;width:78px;height:15px;"><span style="left:-2000px;width:2078px;text-align:right;padding-right:2px;box-sizing:border-box;">115,19</span></div>
<div class="c" style="left:198px;top:166px;width:78px;height:15px;"><span style="left:-2000px;width:2078px;text-align:right;padding-right:2px;box-sizing:border-box;">0,00</span></div>
<div class="c" style="left:277px;top:166px;width:57px;height:15px;"><span style="left:-2000px;width:2057px;text-align:right;padding-right:2px;box-sizing:border-box;color:#666666;">0,00</span></div>
<div class="c" style="left:335px;top:166px;width:67px;height:15px;"><span style="left:-2000px;width:2067px;text-align:right;padding-right:2px;box-sizing:border-box;">10 897,46</span></div>
<div class="c" style="left:403px;top:166px;width:78px;height:15px;"><span style="left:-2000px;width:2078px;text-align:right;padding-right:2px;box-sizing:border-box;">115,19</span></div>
<div class="c" style="left:482px;top:166px;width:78px;height:15px;"><span style="left:-200px;width:478px;text-align:center;">1,06%</span></div>
<div class="c" style="left:561px;top:166px;width:78px;height:15px;"><span style="left:-2000px;width:2078px;text-align:right;padding-right:2px;box-sizing:border-box;">0,00</span></div>
<div class="c" style="left:640px;top:166px;width:78px;height:15px;"><span style="left:-2000px;width:2078px;text-align:right;padding-right:2px;box-sizing:border-box;">0,00</span></div>
<div class="c" style="left:798px;top:166px;width:78px;height:15px;"><span style="left:-2000px;width:2078px;text-align:right;padding-right:2px;box-sizing:border-box;color:#990000;">0,00</span></div>
<div class="c" style="left:877px;top:166px;width:78px;height:15px;"><span style="left:-2000px;width:2078px;text-align:right;padding-right:2px;box-sizing:border-box;">-10 897,46</span></div>
<div class="c" style="left:956px;top:166px;width:78px;height:15px;"><span style="left:-2000px;width:2078px;text-align:right;padding-right:2px;box-sizing:border-box;">0,00</span></div>
<div class="c" style="left:1035px;top:166px;width:78px;height:15px;"><span style="left:-2000px;width:2078px;text-align:right;padding-right:2px;box-sizing:border-box;color:#e00000;">-7,15</span></div>
<div class="c" style="left:119px;top:182px;width:78px;height:15px;"><span style="left:-2000px;width:2078px;text-align:right;padding-right:2px;box-sizing:border-box;">2 422,49</span></div>
<div class="c" style="left:198px;top:182px;width:78px;height:15px;"><span style="left:-2000px;width:2078px;text-align:right;padding-right:2px;box-sizing:border-box;">191 452,92</span></div>
<div class="c" style="left:277px;top:182px;width:57px;height:15px;"><span style="left:-2000px;width:2057px;text-align:right;padding-right:2px;box-sizing:border-box;color:#666666;">2 013,75</span></div>
<div class="c" style="left:335px;top:182px;width:67px;height:15px;"><span style="left:-2000px;width:2067px;text-align:right;padding-right:2px;box-sizing:border-box;">79 102,29</span></div>
<div class="c" style="left:403px;top:182px;width:78px;height:15px;"><span style="left:-2000px;width:2078px;text-align:right;padding-right:2px;box-sizing:border-box;">1 093,49</span></div>
<div class="c" style="left:482px;top:182px;width:78px;height:15px;"><span style="left:-200px;width:478px;text-align:center;">1,38%</span></div>
<div class="c" style="left:561px;top:182px;width:78px;height:15px;"><span style="left:-2000px;width:2078px;text-align:right;padding-right:2px;box-sizing:border-box;">129 779,27</span></div>
<div class="c" style="left:640px;top:182px;width:78px;height:15px;"><span style="left:-2000px;width:2078px;text-align:right;padding-right:2px;box-sizing:border-box;">1 406,20</span></div>
<div class="c" style="left:719px;top:182px;width:78px;height:15px;"><span style="left:-200px;width:478px;text-align:center;">1,08%</span></div>
<div class="c" style="left:798px;top:182px;width:78px;height:15px;"><span style="left:-2000px;width:2078px;text-align:right;padding-right:2px;box-sizing:border-box;color:#990000;">77,19</span></div>
<div class="c" style="left:877px;top:182px;width:78px;height:15px;"><span style="left:-2000px;width:2078px;text-align:right;padding-right:2px;box-sizing:border-box;">117 707,13</span></div>
<div class="c" style="left:956px;top:182px;width:78px;height:15px;"><span style="left:-2000px;width:2078px;text-align:right;padding-right:2px;box-sizing:border-box;">106 802,52</span></div>
<div class="c" style="left:119px;top:198px;width:78px;height:15px;"><span style="left:-2000px;width:2078px;text-align:right;padding-right:2px;box-sizing:border-box;">6 068,25</span></div>
<div class="c" style="left:198px;top:198px;width:78px;height:15px;"><span style="left:-2000px;width:2078px;text-align:right;padding-right:2px;box-sizing:border-box;">182 201,10</span></div>
<div class="c" style="left:277px;top:198px;width:57px;height:15px;"><span style="left:-2000px;width:2057px;text-align:right;padding-right:2px;box-sizing:border-box;color:#666666;">4 896,93</span></div>
<div class="c" style="left:335px;top:198px;width:67px;height:15px;"><span style="left:-2000px;width:2067px;text-align:right;padding-right:2px;box-sizing:border-box;">50 675,70</span></div>
<div class="c" style="left:403px;top:198px;width:78px;height:15px;"><span style="left:-2000px;width:2078px;text-align:right;padding-right:2px;box-sizing:border-box;">897,10</span></div>
<div class="c" style="left:482px;top:198px;width:78px;height:15px;"><span style="left:-200px;width:478px;text-align:center;">1,77%</span></div>
<div class="c" style="left:561px;top:198px;width:78px;height:15px;"><span style="left:-2000px;width:2078px;text-align:right;padding-right:2px;box-sizing:border-box;">118 970,46</span></div>
<div class="c" style="left:640px;top:198px;width:78px;height:15px;"><span style="left:-2000px;width:2078px;text-align:right;padding-right:2px;box-sizing:border-box;">5 608,02</span></div>
<div class="c" style="left:719px;top:198px;width:78px;height:15px;"><span style="left:-200px;width:478px;text-align:center;">4,71%</span></div>
<div class="c" style="left:798px;top:198px;width:78px;height:15px;"><span style="left:-2000px;width:2078px;text-align:right;padding-right:2px;box-sizing:border-box;color:#990000;">436,87</span></div>
<div class="c" style="left:877px;top:198px;width:78px;height:15px;"><span style="left:-2000px;width:2078px;text-align:right;padding-right:2px;box-sizing:border-box;">146 490,41</span></div>
<div class="c" style="left:956px;top:198px;width:78px;height:15px;"><span style="left:-2000px;width:2078px;text-align:right;padding-right:2px;box-sizing:border-box;">116 161,25</span></div>
<div class="c" style="left:1035px;top:198px;width:78px;height:15px;"><span style="left:-2000px;width:2078px;text-align:right;padding-right:2px;box-sizing:border-box;color:#e00000;">-15,59</span></div>
<div class="c" style="left:119px;top:214px;width:78px;height:15px;"><span style="left:-2000px;width:2078px;text-align:right;padding-right:2px;box-sizing:border-box;">903,63</span></div>
<div class="c" style="left:198px;top:214px;width:78px;height:15px;"><span style="left:-2000px;width:2078px;text-align:right;padding-right:2px;box-sizing:border-box;">0,00</span></div>
<div class="c" style="left:277px;top:214px;width:57px;height:15px;"><span style="left:-2000px;width:2057px;text-align:right;padding-right:2px;box-sizing:border-box;color:#666666;">0,00</span></div>
<div class="c" style="left:335px;top:214px;width:67px;height:15px;"><span style="left:-2000px;width:2067px;text-align:right;padding-right:2px;box-sizing:border-box;">30 833,68</span></div>
<div class="c" style="left:403px;top:214px;width:78px;height:15px;"><span style="left:-2000px;width:2078px;text-align:right;padding-right:2px;box-sizing:border-box;">383,51</span></div>
<div class="c" style="left:482px;top:214px;width:78px;height:15px;"><span style="left:-200px;width:478px;text-align:center;">1,24%</span></div>
<div class="c" style="left:561px;top:214px;width:78px;height:15px;"><span style="left:-2000px;width:2078px;text-align:right;padding-right:2px;box-sizing:border-box;">14 627,97</span></div>
<div class="c" style="left:640px;top:214px;width:78px;height:15px;"><span style="left:-2000px;width:2078px;text-align:right;padding-right:2px;box-sizing:border-box;">520,11</span></div>
<div class="c" style="left:719px;top:214px;width:78px;height:15px;"><span style="left:-200px;width:478px;text-align:center;">3,56%</span></div>
<div class="c" style="left:798px;top:214px;width:78px;height:15px;"><span style="left:-2000px;width:2078px;text-align:right;padding-right:2px;box-sizing:border-box;color:#990000;">0,00</span></div>
<div class="c" style="left:877px;top:214px;width:78px;height:15px;"><span style="left:-2000px;width:2078px;text-align:right;padding-right:2px;box-sizing:border-box;">-30 313,57</span></div>
<div class="c" style="left:956px;top:214px;width:78px;height:15px;"><span style="left:-2000px;width:2078px;text-align:right;padding-right:2px;box-sizing:border-box;">0,00</span></div>
<div class="c" style="left:1172px;top:70px;width:108px;height:15px;"><span style="left:0px;width:2000px;text-align:left;padding-left:2px;">Получил</span></div>
<div class="c" style="left:1281px;top:70px;width:78px;height:15px;"><span style="left:-2000px;width:2078px;text-align:right;padding-right:2px;box-sizing:border-box;color:#38761d;">0,00</span></div>
<div class="c" style="left:1172px;top:86px;width:108px;height:15px;"><span style="left:0px;width:2000px;text-align:left;padding-left:2px;">Продал</span></div>
<div class="c" style="left:1281px;top:86px;width:78px;height:15px;"><span style="left:-2000px;width:2078px;text-align:right;padding-right:2px;box-sizing:border-box;color:#cc0000;">30 833,68</span></div>
<div class="c" style="left:1172px;top:102px;width:108px;height:15px;"><span style="left:0px;width:2000px;text-align:left;padding-left:2px;">Комиссия</span></div>
<div class="c" style="left:1281px;top:102px;width:78px;height:15px;"><span style="left:-2000px;width:2078px;text-align:right;padding-right:2px;box-sizing:border-box;color:#cc0000;">0,00</span></div>
<div class="c" style="left:1172px;top:118px;width:108px;height:15px;"><span style="left:0px;width:2000px;text-align:left;padding-left:2px;">Остаток</span></div>
<div class="c" style="left:1281px;top:118px;width:78px;height:15px;"><span style="left:-2000px;width:2078px;text-align:right;padding-right:2px;box-sizing:border-box;">-30 833,68</span></div>
<div class="c" style="left:1172px;top:134px;width:108px;height:15px;"><span style="left:0px;width:2000px;text-align:left;padding-left:2px;">Профит в заявку</span></div>
<div class="c" style="left:1281px;top:134px;width:78px;height:15px;"><span style="left:-2000px;width:2078px;text-align:right;padding-right:2px;box-sizing:border-box;color:#274e13;font-weight:bold;">383,51</span></div>
<div class="c" style="left:1172px;top:150px;width:108px;height:15px;"><span style="left:0px;width:2000px;text-align:left;padding-left:2px;">ОвО профит</span></div>
<div class="c" style="left:1281px;top:150px;width:78px;height:15px;"><span style="left:-2000px;width:2078px;text-align:right;padding-right:2px;box-sizing:border-box;color:#38761d;font-weight:bold;">520,11</span></div>
<div class="c" style="left:1172px;top:166px;width:108px;height:15px;"><span style="left:0px;width:2000px;text-align:left;padding-left:2px;">Вернуть</span></div>
<div class="c" style="left:1281px;top:166px;width:78px;height:15px;"><span style="left:-2000px;width:2078px;text-align:right;padding-right:2px;box-sizing:border-box;">-30 313,57</span></div>
<div class="c" style="left:1172px;top:182px;width:108px;height:15px;"><span style="left:0px;width:2000px;text-align:left;padding-left:2px;">Вернул</span></div>
<div class="c" style="left:1281px;top:182px;width:78px;height:15px;"><span style="left:-2000px;width:2078px;text-align:right;padding-right:2px;box-sizing:border-box;color:#6aa84f;">0,00</span></div>
<div class="c" style="left:1172px;top:198px;width:108px;height:15px;"><span style="left:0px;width:2000px;text-align:left;padding-left:2px;">Разница</span></div>
<div class="c" style="left:1281px;top:198px;width:78px;height:15px;"><span style="left:-2000px;width:2078px;text-align:right;padding-right:2px;box-sizing:border-box;color:#1155cc;">30 313,57</span></div>
<div class="c" style="left:1172px;top:230px;width:108px;height:15px;"><span style="left:0px;width:2000px;text-align:left;padding-left:2px;">Оборотка текущая</span></div>
<div class="c" style="left:1281px;top:230px;width:78px;height:15px;"><span style="left:-2000px;width:2078px;text-align:right;padding-right:2px;box-sizing:border-box;">51 424,24</span></div>
<div class="c" style="left:1172px;top:262px;width:108px;height:15px;"><span style="left:0px;width:2000px;text-align:left;padding-left:2px;">Оборотку выдал</span></div>
<div class="c" style="left:1281px;top:262px;width:78px;height:15px;"><span style="left:-2000px;width:2078px;text-align:right;padding-right:2px;box-sizing:border-box;">454 447,45</span></div>
<div class="c" style="left:1172px;top:278px;width:108px;height:15px;"><span style="left:0px;width:2000px;text-align:left;padding-left:2px;">Должно быть</span></div>
<div class="c" style="left:1281px;top:278px;width:78px;height:15px;"><span style="left:-2000px;width:2078px;text-align:right;padding-right:2px;box-sizing:border-box;">466 861,42</span></div>
<div class="c" style="left:1172px;top:294px;width:108px;height:15px;"><span style="left:0px;width:2000px;text-align:left;padding-left:2px;">Оборотку принял</span></div>
<div class="c" style="left:1281px;top:294px;width:78px;height:15px;"><span style="left:-2000px;width:2078px;text-align:right;padding-right:2px;box-sizing:border-box;">466 884,7</span></div>
<div class="c" style="left:1172px;top:310px;width:108px;height:15px;"><span style="left:0px;width:2000px;text-align:left;padding-left:2px;">Погрешность факт</span></div>
<div class="c" style="left:1281px;top:310px;width:78px;height:15px;"><span style="left:-2000px;width:2078px;text-align:right;padding-right:2px;box-sizing:border-box;">23,2</span></div>
<div class="c" style="left:1172px;top:326px;width:108px;height:15px;"><span style="left:0px;width:2000px;text-align:left;padding-left:2px;">Выводы с вайтбита</span></div>
<div class="c" style="left:1281px;top:326px;width:78px;height:15px;"><span style="left:-2000px;width:2078px;text-align:right;padding-right:2px;box-sizing:border-box;">22</span></div>
<div class="c" style="left:1172px;top:342px;width:108px;height:15px;"><span style="left:0px;width:2000px;text-align:left;padding-left:2px;">Корректировка расчет</span></div>
<div class="c" style="left:1281px;top:342px;width:78px;height:15px;"><span style="left:-2000px;width:2078px;text-align:right;padding-right:2px;box-sizing:border-box;">-9,29</span></div>
<div class="c" style="left:1172px;top:358px;width:108px;height:15px;"><span style="left:0px;width:2000px;text-align:left;padding-left:2px;">Профит расчетный</span></div>
<div class="c" style="left:1281px;top:358px;width:78px;height:15px;"><span style="left:-2000px;width:2078px;text-align:right;padding-right:2px;box-sizing:border-box;">12 445,27</span></div>
<div class="c" style="left:1172px;top:246px;width:108px;height:15px;"><span style="left:-2000px;width:2108px;text-align:right;padding-right:2px;box-sizing:border-box;">Дата</span></div>
<div class="c" style="left:1281px;top:246px;width:78px;height:15px;"><span style="left:-2000px;width:2078px;text-align:right;padding-right:2px;box-sizing:border-box;">17.11.2025</span></div>
<div class="c" style="left:1172px;top:374px;width:108px;height:15px;"><span style="left:-2000px;width:2108px;text-align:right;padding-right:2px;box-sizing:border-box;">Разбежка</span></div>
<div class="c" style="left:1281px;top:374px;width:78px;height:15px;"><span style="left:-2000px;width:2078px;text-align:right;padding-right:2px;box-sizing:border-box;">14,0</span></div>
<div class="c" style="left:1172px;top:422px;width:108px;height:15px;"><span style="left:0px;width:2000px;text-align:left;padding-left:2px;">Давид</span></div>
<div class="c" style="left:1281px;top:422px;width:78px;height:15px;"><span style="left:-2000px;width:2078px;text-align:right;padding-right:2px;box-sizing:border-box;">6 068,25</span></div>
<div class="c" style="left:1172px;top:438px;width:108px;height:15px;"><span style="left:0px;width:2000px;text-align:left;padding-left:2px;">Андрій</span></div>
<div class="c" style="left:1281px;top:438px;width:78px;height:15px;"><span style="left:-2000px;width:2078px;text-align:right;padding-right:2px;box-sizing:border-box;">2 606,49</span></div>
<div class="c" style="left:1172px;top:454px;width:108px;height:15px;"><span style="left:0px;width:2000px;text-align:left;padding-left:2px;">Мартин</span></div>
<div class="c" style="left:1281px;top:454px;width:78px;height:15px;"><span style="left:-2000px;width:2078px;text-align:right;padding-right:2px;box-sizing:border-box;">2 422,49</span></div>
<div class="c" style="left:1172px;top:470px;width:108px;height:15px;"><span style="left:0px;width:2000px;text-align:left;padding-left:2px;">Давид Bybit</span></div>
<div class="c" style="left:1281px;top:470px;width:78px;height:15px;"><span style="left:-2000px;width:2078px;text-align:right;padding-right:2px;box-sizing:border-box;">903,63</span></div>
<div class="c" style="left:1172px;top:486px;width:108px;height:15px;"><span style="left:0px;width:2000px;text-align:left;padding-left:2px;">Илья</span></div>
<div class="c" style="left:1281px;top:486px;width:78px;height:15px;"><span style="left:-2000px;width:2078px;text-align:right;padding-right:2px;box-sizing:border-box;">212,86</span></div>
<div class="c" style="left:1172px;top:502px;width:108px;height:15px;"><span style="left:0px;width:2000px;text-align:left;padding-left:2px;">Андрій Bybit</span></div>
<div class="c" style="left:1281px;top:502px;width:78px;height:15px;"><span style="left:-2000px;width:2078px;text-align:right;padding-right:2px;box-sizing:border-box;">116,36</span></div>
<div class="c" style="left:1172px;top:518px;width:108px;height:15px;"><span style="left:0px;width:2000px;text-align:left;padding-left:2px;">Мартин Bybit</span></div>
<div class="c" style="left:1281px;top:518px;width:78px;height:15px;"><span style="left:-2000px;width:2078px;text-align:right;padding-right:2px;box-sizing:border-box;">115,19</span></div>
<div class="c" style="left:15px;top:422px;width:861px;height:15px;"><span style="left:0px;width:2000px;text-align:left;padding-left:2px;">Синим указаны стабильные ячейки. Все остальное - переменные. Сверху сразу все считается. Скидывать можно скриншотом в группу. Здесь же всети остатки и все сразу считается</span></div>
<div class="c" style="left:15px;top:438px;width:103px;height:15px;"><span style="left:0px;width:2000px;text-align:left;padding-left:20px;">29.11.2025</span></div>
<div class="c" style="left:119px;top:438px;width:78px;height:15px;"><span style="left:0px;width:2000px;text-align:left;padding-left:2px;">Утро</span></div>
<div class="c" style="left:198px;top:438px;width:78px;height:15px;"><span style="left:-2000px;width:2078px;text-align:right;padding-right:2px;box-sizing:border-box;font-weight:bold;">51 423,52</span></div>
<div class="c" style="left:15px;top:454px;width:103px;height:15px;"><span style="left:0px;width:2000px;text-align:left;padding-left:2px;">**Детально**</span></div>
<div class="c" style="left:15px;top:470px;width:103px;height:15px;"><span style="left:-2000px;width:2103px;text-align:right;padding-right:2px;box-sizing:border-box;">48 719,20</span></div>
<div class="c" style="left:119px;top:470px;width:78px;height:15px;"><span style="left:0px;width:2000px;text-align:left;padding-left:2px;">USDT</span></div>
<div class="c" style="left:15px;top:486px;width:103px;height:15px;"><span style="left:-2000px;width:2103px;text-align:right;padding-right:2px;box-sizing:border-box;">909,32</span></div>
<div class="c" style="left:119px;top:486px;width:157px;height:15px;"><span style="left:0px;width:2000px;text-align:left;padding-left:2px;">Мартин морос GBP</span></div>
<div class="c" style="left:15px;top:502px;width:103px;height:15px;"><span style="left:-2000px;width:2103px;text-align:right;padding-right:2px;box-sizing:border-box;">1,05</span></div>
<div class="c" style="left:119px;top:502px;width:157px;height:15px;"><span style="left:0px;width:2000px;text-align:left;padding-left:2px;">Андрей висит на ББ</span></div>
<div class="c" style="left:15px;top:518px;width:103px;height:15px;"><span style="left:-2000px;width:2103px;text-align:right;padding-right:2px;box-sizing:border-box;">1 793,95</span></div>
<div class="c" style="left:119px;top:518px;width:157px;height:15px;"><span style="left:0px;width:2000px;text-align:left;padding-left:2px;">Мартин морос GBP</span></div>
<div class="c" style="left:335px;top:438px;width:67px;height:15px;"><span style="left:0px;width:2000px;text-align:left;padding-left:20px;">29.11.2025</span></div>
<div class="c" style="left:403px;top:438px;width:78px;height:15px;"><span style="left:0px;width:2000px;text-align:left;padding-left:2px;">Вечер</span></div>
<div class="c" style="left:482px;top:438px;width:78px;height:15px;"><span style="left:-2000px;width:2078px;text-align:right;padding-right:2px;box-sizing:border-box;font-weight:bold;">51 423,52</span></div>
<div class="c" style="left:335px;top:454px;width:67px;height:15px;"><span style="left:0px;width:2000px;text-align:left;padding-left:2px;">**Детально**</span></div>
<div class="c" style="left:335px;top:470px;width:67px;height:15px;"><span style="left:-2000px;width:2067px;text-align:right;padding-right:2px;box-sizing:border-box;">-29,93</span></div>
<div class="c" style="left:403px;top:470px;width:157px;height:15px;"><span style="left:0px;width:2000px;text-align:left;padding-left:20px;">**Приход - Расход**</span></div>
<div class="c" style="left:335px;top:486px;width:67px;height:15px;"><span style="left:-2000px;width:2067px;text-align:right;padding-right:2px;box-sizing:border-box;">48 719,20</span></div>
<div class="c" style="left:403px;top:486px;width:78px;height:15px;"><span style="left:0px;width:2000px;text-align:left;padding-left:2px;">USDT</span></div>
<div class="c" style="left:335px;top:502px;width:67px;height:15px;"><span style="left:-2000px;width:2067px;text-align:right;padding-right:2px;box-sizing:border-box;">909,32</span></div>
<div class="c" style="left:403px;top:502px;width:157px;height:15px;"><span style="left:0px;width:2000px;text-align:left;padding-left:2px;color:#000;">Мартин морос GBP</span></div>
<div class="c" style="left:335px;top:518px;width:67px;height:15px;"><span style="left:-2000px;width:2067px;text-align:right;padding-right:2px;box-sizing:border-box;">1,05</span></div>
<div class="c" style="left:403px;top:518px;width:157px;height:15px;"><span style="left:0px;width:2000px;text-align:left;padding-left:2px;">Андрей висит на ББ</span></div>
<div class="c" style="left:335px;top:534px;width:67px;height:15px;"><span style="left:-2000px;width:2067px;text-align:right;padding-right:2px;box-sizing:border-box;">1 793,95</span></div>
<div class="c" style="left:403px;top:534px;width:157px;height:15px;"><span style="left:0px;width:2000px;text-align:left;padding-left:2px;">Мартин морос GBP</span></div>
<div class="c" style="left:640px;top:438px;width:78px;height:15px;"><span style="left:0px;width:2000px;text-align:left;padding-left:20px;">29.11.2025</span></div>
<div class="c" style="left:719px;top:438px;width:78px;height:15px;"><span style="left:0px;width:2000px;text-align:left;padding-left:21px;">Приход</span></div>
<div class="c" style="left:798px;top:438px;width:78px;height:15px;"><span style="left:-2000px;width:2078px;text-align:right;padding-right:2px;box-sizing:border-box;font-weight:bold;">0,00</span></div>
<div class="c" style="left:877px;top:438px;width:78px;height:15px;"><span style="left:-2000px;width:2078px;text-align:right;padding-right:2px;box-sizing:border-box;">51 453,45</span></div>
<div class="c" style="left:719px;top:454px;width:78px;height:15px;"><span style="left:0px;width:2000px;text-align:left;padding-left:21px;">Расход</span></div>
<div class="c" style="left:798px;top:454px;width:78px;height:15px;"><span style="left:-2000px;width:2078px;text-align:right;padding-right:2px;box-sizing:border-box;">29,93</span></div>
<div class="c" style="left:877px;top:454px;width:78px;height:15px;"><span style="left:-2000px;width:2078px;text-align:right;padding-right:2px;box-sizing:border-box;">-29,93</span></div>
<div class="c" style="left:640px;top:470px;width:78px;height:15px;"><span style="left:0px;width:2000px;text-align:left;padding-left:2px;">**Детально**</span></div>
<div class="c" style="left:719px;top:486px;width:78px;height:15px;"><span style="left:-2000px;width:2078px;text-align:right;padding-right:2px;box-sizing:border-box;">29,93</span></div>
<div class="c" style="left:798px;top:486px;width:590px;height:15px;"><span style="left:0px;width:2000px;text-align:left;padding-left:2px;">28,93 расх +1 ком Сервис аренды номеров, направление евро (3)</span></div>
<div style="left:22px;top:71.5px;width:89px;height:12.5px;background:#e6e8ec;border-radius:6.5px"></div>
<svg style="left:99px;top:75px" width="9" height="6" viewBox="0 0 9 6"><path d="M1 0.7 H8 L4.5 4.6 Z" fill="#000"/></svg>
<div style="left:22px;top:87.5px;width:89px;height:12.5px;background:#e6e8ec;border-radius:6.5px"></div>
<svg style="left:99px;top:91px" width="9" height="6" viewBox="0 0 9 6"><path d="M1 0.7 H8 L4.5 4.6 Z" fill="#000"/></svg>
<div style="left:22px;top:103.5px;width:89px;height:12.5px;background:#e6e8ec;border-radius:6.5px"></div>
<svg style="left:99px;top:107px" width="9" height="6" viewBox="0 0 9 6"><path d="M1 0.7 H8 L4.5 4.6 Z" fill="#000"/></svg>
<div style="left:22px;top:119.5px;width:89px;height:12.5px;background:#e6e8ec;border-radius:6.5px"></div>
<svg style="left:99px;top:123px" width="9" height="6" viewBox="0 0 9 6"><path d="M1 0.7 H8 L4.5 4.6 Z" fill="#000"/></svg>
<div class="c" style="left:15px;top:118px;width:76px;height:15px"><span style="left:11.5px;">Илья</span></div>
<div style="left:22px;top:135.5px;width:89px;height:12.5px;background:#e6e8ec;border-radius:6.5px"></div>
<svg style="left:99px;top:139px" width="9" height="6" viewBox="0 0 9 6"><path d="M1 0.7 H8 L4.5 4.6 Z" fill="#000"/></svg>
<div class="c" style="left:15px;top:134px;width:76px;height:15px"><span style="left:11.5px;">Андрій</span></div>
<div style="left:22px;top:151.5px;width:89px;height:12.5px;background:#e6e8ec;border-radius:6.5px"></div>
<svg style="left:99px;top:155px" width="9" height="6" viewBox="0 0 9 6"><path d="M1 0.7 H8 L4.5 4.6 Z" fill="#000"/></svg>
<div class="c" style="left:15px;top:150px;width:76px;height:15px"><span style="left:11.5px;">Андрій Bybit</span></div>
<div style="left:22px;top:167.5px;width:89px;height:12.5px;background:#e6e8ec;border-radius:6.5px"></div>
<svg style="left:99px;top:171px" width="9" height="6" viewBox="0 0 9 6"><path d="M1 0.7 H8 L4.5 4.6 Z" fill="#000"/></svg>
<div class="c" style="left:15px;top:166px;width:76px;height:15px"><span style="left:11.5px;">Мартин Bybit</span></div>
<div style="left:22px;top:183.5px;width:89px;height:12.5px;background:#e6e8ec;border-radius:6.5px"></div>
<svg style="left:99px;top:187px" width="9" height="6" viewBox="0 0 9 6"><path d="M1 0.7 H8 L4.5 4.6 Z" fill="#000"/></svg>
<div class="c" style="left:15px;top:182px;width:76px;height:15px"><span style="left:11.5px;">Мартин</span></div>
<div style="left:22px;top:199.5px;width:89px;height:12.5px;background:#e6e8ec;border-radius:6.5px"></div>
<svg style="left:99px;top:203px" width="9" height="6" viewBox="0 0 9 6"><path d="M1 0.7 H8 L4.5 4.6 Z" fill="#000"/></svg>
<div class="c" style="left:15px;top:198px;width:76px;height:15px"><span style="left:11.5px;">Давид</span></div>
<div style="left:22px;top:215.5px;width:89px;height:12.5px;background:#e6e8ec;border-radius:6.5px"></div>
<svg style="left:99px;top:219px" width="9" height="6" viewBox="0 0 9 6"><path d="M1 0.7 H8 L4.5 4.6 Z" fill="#000"/></svg>
<div class="c" style="left:15px;top:214px;width:76px;height:15px"><span style="left:11.5px;">Давид Bybit</span></div>
<div style="left:22px;top:231.5px;width:89px;height:12.5px;background:#e6e8ec;border-radius:6.5px"></div>
<svg style="left:99px;top:235px" width="9" height="6" viewBox="0 0 9 6"><path d="M1 0.7 H8 L4.5 4.6 Z" fill="#000"/></svg>
<div style="left:22px;top:247.5px;width:89px;height:12.5px;background:#e6e8ec;border-radius:6.5px"></div>
<svg style="left:99px;top:251px" width="9" height="6" viewBox="0 0 9 6"><path d="M1 0.7 H8 L4.5 4.6 Z" fill="#000"/></svg>
<div style="left:22px;top:263.5px;width:89px;height:12.5px;background:#e6e8ec;border-radius:6.5px"></div>
<svg style="left:99px;top:267px" width="9" height="6" viewBox="0 0 9 6"><path d="M1 0.7 H8 L4.5 4.6 Z" fill="#000"/></svg>
<div style="left:22px;top:279.5px;width:89px;height:12.5px;background:#e6e8ec;border-radius:6.5px"></div>
<svg style="left:99px;top:283px" width="9" height="6" viewBox="0 0 9 6"><path d="M1 0.7 H8 L4.5 4.6 Z" fill="#000"/></svg>
<div style="left:22px;top:295.5px;width:89px;height:12.5px;background:#e6e8ec;border-radius:6.5px"></div>
<svg style="left:99px;top:299px" width="9" height="6" viewBox="0 0 9 6"><path d="M1 0.7 H8 L4.5 4.6 Z" fill="#000"/></svg>
<div style="left:22px;top:311.5px;width:89px;height:12.5px;background:#e6e8ec;border-radius:6.5px"></div>
<svg style="left:99px;top:315px" width="9" height="6" viewBox="0 0 9 6"><path d="M1 0.7 H8 L4.5 4.6 Z" fill="#000"/></svg>
<div style="left:22px;top:327.5px;width:89px;height:12.5px;background:#e6e8ec;border-radius:6.5px"></div>
<svg style="left:99px;top:331px" width="9" height="6" viewBox="0 0 9 6"><path d="M1 0.7 H8 L4.5 4.6 Z" fill="#000"/></svg>
<div style="left:22px;top:343.5px;width:89px;height:12.5px;background:#e6e8ec;border-radius:6.5px"></div>
<svg style="left:99px;top:347px" width="9" height="6" viewBox="0 0 9 6"><path d="M1 0.7 H8 L4.5 4.6 Z" fill="#000"/></svg>
<div style="left:22px;top:359.5px;width:89px;height:12.5px;background:#e6e8ec;border-radius:6.5px"></div>
<svg style="left:99px;top:363px" width="9" height="6" viewBox="0 0 9 6"><path d="M1 0.7 H8 L4.5 4.6 Z" fill="#000"/></svg>
<div style="left:22px;top:375.5px;width:89px;height:12.5px;background:#e6e8ec;border-radius:6.5px"></div>
<svg style="left:99px;top:379px" width="9" height="6" viewBox="0 0 9 6"><path d="M1 0.7 H8 L4.5 4.6 Z" fill="#000"/></svg>
<div style="left:22px;top:391.5px;width:89px;height:12.5px;background:#e6e8ec;border-radius:6.5px"></div>
<svg style="left:99px;top:395px" width="9" height="6" viewBox="0 0 9 6"><path d="M1 0.7 H8 L4.5 4.6 Z" fill="#000"/></svg>
<div style="left:22px;top:407.5px;width:89px;height:12.5px;background:#e6e8ec;border-radius:6.5px"></div>
<svg style="left:99px;top:411px" width="9" height="6" viewBox="0 0 9 6"><path d="M1 0.7 H8 L4.5 4.6 Z" fill="#000"/></svg>
<div style="left:1179px;top:55.5px;width:173px;height:12.5px;background:#e6e8ec;border-radius:6.5px"></div>
<svg style="left:1340px;top:59px" width="9" height="6" viewBox="0 0 9 6"><path d="M1 0.7 H8 L4.5 4.6 Z" fill="#000"/></svg>
<div class="c" style="left:1172px;top:54px;width:160px;height:15px"><span style="left:11.5px;">Давид Bybit</span></div>
<div style="left:647px;top:487.5px;width:64px;height:12.5px;background:#e6e8ec;border-radius:6.5px"></div>
<svg style="left:699px;top:491px" width="9" height="6" viewBox="0 0 9 6"><path d="M1 0.7 H8 L4.5 4.6 Z" fill="#000"/></svg>
<div style="left:647px;top:503.5px;width:64px;height:12.5px;background:#e6e8ec;border-radius:6.5px"></div>
<svg style="left:699px;top:507px" width="9" height="6" viewBox="0 0 9 6"><path d="M1 0.7 H8 L4.5 4.6 Z" fill="#000"/></svg>
<div style="left:647px;top:519.5px;width:64px;height:12.5px;background:#e6e8ec;border-radius:6.5px"></div>
<svg style="left:699px;top:523px" width="9" height="6" viewBox="0 0 9 6"><path d="M1 0.7 H8 L4.5 4.6 Z" fill="#000"/></svg>
<div style="left:647px;top:535.5px;width:64px;height:12.5px;background:#e6e8ec;border-radius:6.5px"></div>
<svg style="left:699px;top:539px" width="9" height="6" viewBox="0 0 9 6"><path d="M1 0.7 H8 L4.5 4.6 Z" fill="#000"/></svg>
<div style="left:647px;top:551.5px;width:64px;height:12.5px;background:#e6e8ec;border-radius:6.5px"></div>
<svg style="left:699px;top:555px" width="9" height="6" viewBox="0 0 9 6"><path d="M1 0.7 H8 L4.5 4.6 Z" fill="#000"/></svg>
<div style="left:647px;top:567.5px;width:64px;height:12.5px;background:#e6e8ec;border-radius:6.5px"></div>
<svg style="left:699px;top:571px" width="9" height="6" viewBox="0 0 9 6"><path d="M1 0.7 H8 L4.5 4.6 Z" fill="#000"/></svg>
<div style="left:682px;top:489px;width:10.5px;height:10.5px;border-radius:50%;background:radial-gradient(circle at 62% 32%, #ff8097 0%, #e8364f 50%, #b81c33 100%)"></div>
<div style="left:19px;top:441px;width:10.5px;height:10.5px;border-radius:50%;background:radial-gradient(circle at 62% 32%, #ffe98a 0%, #f6c445 45%, #e59a1c 100%)"></div>
<div style="left:339px;top:441px;width:10.5px;height:10.5px;border-radius:50%;background:radial-gradient(circle at 62% 32%, #8ec0ff 0%, #3d7de6 50%, #2550b8 100%)"></div>
<div style="left:723px;top:441px;width:10.5px;height:10.5px;border-radius:50%;background:radial-gradient(circle at 62% 32%, #8dfcb0 0%, #3fce78 50%, #2a9d58 100%)"></div>
<div style="left:723px;top:457px;width:10.5px;height:10.5px;border-radius:50%;background:radial-gradient(circle at 62% 32%, #ff8097 0%, #e8364f 50%, #b81c33 100%)"></div>
<svg style="left:644px;top:440.5px" width="11" height="11" viewBox="0 0 11 11"><defs><linearGradient id="hg1" x1="0" y1="0" x2="1" y2="0"><stop offset="0" stop-color="#f59a1a"/><stop offset="0.5" stop-color="#ffcf33"/><stop offset="1" stop-color="#ffe050"/></linearGradient></defs><path d="M0.4 8.3 L1.6 5 L3.2 3 L5.6 3.4 L8.2 4.4 L10.8 5.4 L10.8 10 L1.4 10 Z" fill="url(#hg1)"/><rect x="1.4" y="9" width="6.5" height="1.1" fill="#f0643a"/><path d="M6.6 1 L2.8 7.8" stroke="#f4511e" stroke-width="1.7" stroke-linecap="round"/><path d="M6.6 1 L5.9 2.2" stroke="#ff8a80" stroke-width="1.7" stroke-linecap="round"/></svg>
<svg style="left:407px;top:472.5px" width="11" height="11" viewBox="0 0 11 11"><defs><linearGradient id="hg2" x1="0" y1="0" x2="1" y2="0"><stop offset="0" stop-color="#f59a1a"/><stop offset="0.5" stop-color="#ffcf33"/><stop offset="1" stop-color="#ffe050"/></linearGradient></defs><path d="M0.4 8.3 L1.6 5 L3.2 3 L5.6 3.4 L8.2 4.4 L10.8 5.4 L10.8 10 L1.4 10 Z" fill="url(#hg2)"/><rect x="1.4" y="9" width="6.5" height="1.1" fill="#f0643a"/><path d="M6.6 1 L2.8 7.8" stroke="#f4511e" stroke-width="1.7" stroke-linecap="round"/><path d="M6.6 1 L5.9 2.2" stroke="#ff8a80" stroke-width="1.7" stroke-linecap="round"/></svg>
<svg style="left:123px;top:457px" width="11" height="10" viewBox="0 0 11 10"><defs><linearGradient id="ag3" x1="0" y1="1" x2="1" y2="0"><stop offset="0" stop-color="#2f6fe0"/><stop offset="1" stop-color="#62b6fb"/></linearGradient></defs><rect x="0" y="0" width="11" height="10" rx="1" fill="url(#ag3)"/><path d="M4.7 1.7 H6.3 V5.6 H8.3 L5.5 8.4 L2.7 5.6 H4.7 Z" fill="#fff"/></svg><svg style="left:137.5px;top:457px" width="11" height="10" viewBox="0 0 11 10"><defs><linearGradient id="ag4" x1="0" y1="1" x2="1" y2="0"><stop offset="0" stop-color="#2f6fe0"/><stop offset="1" stop-color="#62b6fb"/></linearGradient></defs><rect x="0" y="0" width="11" height="10" rx="1" fill="url(#ag4)"/><path d="M4.7 1.7 H6.3 V5.6 H8.3 L5.5 8.4 L2.7 5.6 H4.7 Z" fill="#fff"/></svg><svg style="left:151.5px;top:457px" width="11" height="10" viewBox="0 0 11 10"><defs><linearGradient id="ag5" x1="0" y1="1" x2="1" y2="0"><stop offset="0" stop-color="#2f6fe0"/><stop offset="1" stop-color="#62b6fb"/></linearGradient></defs><rect x="0" y="0" width="11" height="10" rx="1" fill="url(#ag5)"/><path d="M4.7 1.7 H6.3 V5.6 H8.3 L5.5 8.4 L2.7 5.6 H4.7 Z" fill="#fff"/></svg>
<svg style="left:407px;top:457px" width="11" height="10" viewBox="0 0 11 10"><defs><linearGradient id="ag6" x1="0" y1="1" x2="1" y2="0"><stop offset="0" stop-color="#2f6fe0"/><stop offset="1" stop-color="#62b6fb"/></linearGradient></defs><rect x="0" y="0" width="11" height="10" rx="1" fill="url(#ag6)"/><path d="M4.7 1.7 H6.3 V5.6 H8.3 L5.5 8.4 L2.7 5.6 H4.7 Z" fill="#fff"/></svg><svg style="left:421.5px;top:457px" width="11" height="10" viewBox="0 0 11 10"><defs><linearGradient id="ag7" x1="0" y1="1" x2="1" y2="0"><stop offset="0" stop-color="#2f6fe0"/><stop offset="1" stop-color="#62b6fb"/></linearGradient></defs><rect x="0" y="0" width="11" height="10" rx="1" fill="url(#ag7)"/><path d="M4.7 1.7 H6.3 V5.6 H8.3 L5.5 8.4 L2.7 5.6 H4.7 Z" fill="#fff"/></svg><svg style="left:435.5px;top:457px" width="11" height="10" viewBox="0 0 11 10"><defs><linearGradient id="ag8" x1="0" y1="1" x2="1" y2="0"><stop offset="0" stop-color="#2f6fe0"/><stop offset="1" stop-color="#62b6fb"/></linearGradient></defs><rect x="0" y="0" width="11" height="10" rx="1" fill="url(#ag8)"/><path d="M4.7 1.7 H6.3 V5.6 H8.3 L5.5 8.4 L2.7 5.6 H4.7 Z" fill="#fff"/></svg>
<svg style="left:723px;top:473px" width="11" height="10" viewBox="0 0 11 10"><defs><linearGradient id="ag9" x1="0" y1="1" x2="1" y2="0"><stop offset="0" stop-color="#2f6fe0"/><stop offset="1" stop-color="#62b6fb"/></linearGradient></defs><rect x="0" y="0" width="11" height="10" rx="1" fill="url(#ag9)"/><path d="M4.7 1.7 H6.3 V5.6 H8.3 L5.5 8.4 L2.7 5.6 H4.7 Z" fill="#fff"/></svg><svg style="left:737.5px;top:473px" width="11" height="10" viewBox="0 0 11 10"><defs><linearGradient id="ag10" x1="0" y1="1" x2="1" y2="0"><stop offset="0" stop-color="#2f6fe0"/><stop offset="1" stop-color="#62b6fb"/></linearGradient></defs><rect x="0" y="0" width="11" height="10" rx="1" fill="url(#ag10)"/><path d="M4.7 1.7 H6.3 V5.6 H8.3 L5.5 8.4 L2.7 5.6 H4.7 Z" fill="#fff"/></svg><svg style="left:751.5px;top:473px" width="11" height="10" viewBox="0 0 11 10"><defs><linearGradient id="ag11" x1="0" y1="1" x2="1" y2="0"><stop offset="0" stop-color="#2f6fe0"/><stop offset="1" stop-color="#62b6fb"/></linearGradient></defs><rect x="0" y="0" width="11" height="10" rx="1" fill="url(#ag11)"/><path d="M4.7 1.7 H6.3 V5.6 H8.3 L5.5 8.4 L2.7 5.6 H4.7 Z" fill="#fff"/></svg>
<svg style="left:713px;top:19px" width="5" height="5" viewBox="0 0 5 5"><path d="M0 0 H5 V5 Z" fill="#000"/></svg>
<svg style="left:271px;top:54px" width="5" height="5" viewBox="0 0 5 5"><path d="M0 0 H5 V5 Z" fill="#000"/></svg>
<svg style="left:397px;top:54px" width="5" height="5" viewBox="0 0 5 5"><path d="M0 0 H5 V5 Z" fill="#000"/></svg>
<svg style="left:871px;top:54px" width="5" height="5" viewBox="0 0 5 5"><path d="M0 0 H5 V5 Z" fill="#000"/></svg>
<svg style="left:192px;top:438px" width="5" height="5" viewBox="0 0 5 5"><path d="M0 0 H5 V5 Z" fill="#000"/></svg>
<svg style="left:476px;top:438px" width="5" height="5" viewBox="0 0 5 5"><path d="M0 0 H5 V5 Z" fill="#000"/></svg>
<svg style="left:792px;top:438px" width="5" height="5" viewBox="0 0 5 5"><path d="M0 0 H5 V5 Z" fill="#000"/></svg>
<svg style="left:231.0px;top:20px" width="12" height="12.5" viewBox="0 0 12 12.5"><rect x="0" y="0" width="12" height="12.5" rx="2" fill="#4a7f36"/><path d="M2.3 6.3 L4.9 8.9 L9.7 3.7" stroke="#fff" stroke-width="1.3" fill="none"/></svg>
<svg style="left:1123.0px;top:71.7px" width="12" height="12" viewBox="0 0 12 12"><rect x="0.75" y="0.75" width="10.5" height="10.5" rx="1.6" fill="none" stroke="#4a7f36" stroke-width="1.5"/></svg>
<svg style="left:1123.0px;top:87.7px" width="12" height="12" viewBox="0 0 12 12"><rect x="0.75" y="0.75" width="10.5" height="10.5" rx="1.6" fill="none" stroke="#4a7f36" stroke-width="1.5"/></svg>
<svg style="left:1123.0px;top:103.7px" width="12" height="12" viewBox="0 0 12 12"><rect x="0.75" y="0.75" width="10.5" height="10.5" rx="1.6" fill="none" stroke="#4a7f36" stroke-width="1.5"/></svg>
<svg style="left:1123.0px;top:119.7px" width="12" height="12" viewBox="0 0 12 12"><rect x="0.75" y="0.75" width="10.5" height="10.5" rx="1.6" fill="none" stroke="#4a7f36" stroke-width="1.5"/></svg>
<svg style="left:1123.0px;top:135.7px" width="12" height="12" viewBox="0 0 12 12"><rect x="0.75" y="0.75" width="10.5" height="10.5" rx="1.6" fill="none" stroke="#4a7f36" stroke-width="1.5"/></svg>
<svg style="left:1123.0px;top:151.7px" width="12" height="12" viewBox="0 0 12 12"><rect x="0.75" y="0.75" width="10.5" height="10.5" rx="1.6" fill="none" stroke="#4a7f36" stroke-width="1.5"/></svg>
<svg style="left:1123.0px;top:167.7px" width="12" height="12" viewBox="0 0 12 12"><rect x="0.75" y="0.75" width="10.5" height="10.5" rx="1.6" fill="none" stroke="#4a7f36" stroke-width="1.5"/></svg>
<svg style="left:1123.0px;top:183.7px" width="12" height="12" viewBox="0 0 12 12"><rect x="0.75" y="0.75" width="10.5" height="10.5" rx="1.6" fill="none" stroke="#4a7f36" stroke-width="1.5"/></svg>
<svg style="left:1123.0px;top:199.7px" width="12" height="12" viewBox="0 0 12 12"><rect x="0.75" y="0.75" width="10.5" height="10.5" rx="1.6" fill="none" stroke="#4a7f36" stroke-width="1.5"/></svg>
<svg style="left:1123.0px;top:215.7px" width="12" height="12" viewBox="0 0 12 12"><rect x="0.75" y="0.75" width="10.5" height="10.5" rx="1.6" fill="none" stroke="#4a7f36" stroke-width="1.5"/></svg>
<svg style="left:1123.0px;top:231.7px" width="12" height="12" viewBox="0 0 12 12"><rect x="0.75" y="0.75" width="10.5" height="10.5" rx="1.6" fill="none" stroke="#4a7f36" stroke-width="1.5"/></svg>
<svg style="left:1123.0px;top:247.7px" width="12" height="12" viewBox="0 0 12 12"><rect x="0.75" y="0.75" width="10.5" height="10.5" rx="1.6" fill="none" stroke="#4a7f36" stroke-width="1.5"/></svg>
<svg style="left:1123.0px;top:263.7px" width="12" height="12" viewBox="0 0 12 12"><rect x="0.75" y="0.75" width="10.5" height="10.5" rx="1.6" fill="none" stroke="#4a7f36" stroke-width="1.5"/></svg>
<svg style="left:1123.0px;top:279.7px" width="12" height="12" viewBox="0 0 12 12"><rect x="0.75" y="0.75" width="10.5" height="10.5" rx="1.6" fill="none" stroke="#4a7f36" stroke-width="1.5"/></svg>
<svg style="left:1123.0px;top:295.7px" width="12" height="12" viewBox="0 0 12 12"><rect x="0.75" y="0.75" width="10.5" height="10.5" rx="1.6" fill="none" stroke="#4a7f36" stroke-width="1.5"/></svg>
<svg style="left:1123.0px;top:311.7px" width="12" height="12" viewBox="0 0 12 12"><rect x="0.75" y="0.75" width="10.5" height="10.5" rx="1.6" fill="none" stroke="#4a7f36" stroke-width="1.5"/></svg>
<svg style="left:1123.0px;top:327.7px" width="12" height="12" viewBox="0 0 12 12"><rect x="0.75" y="0.75" width="10.5" height="10.5" rx="1.6" fill="none" stroke="#4a7f36" stroke-width="1.5"/></svg>
<svg style="left:1123.0px;top:343.7px" width="12" height="12" viewBox="0 0 12 12"><rect x="0.75" y="0.75" width="10.5" height="10.5" rx="1.6" fill="none" stroke="#4a7f36" stroke-width="1.5"/></svg>
<svg style="left:1123.0px;top:359.7px" width="12" height="12" viewBox="0 0 12 12"><rect x="0.75" y="0.75" width="10.5" height="10.5" rx="1.6" fill="none" stroke="#4a7f36" stroke-width="1.5"/></svg>
<svg style="left:1123.0px;top:375.7px" width="12" height="12" viewBox="0 0 12 12"><rect x="0.75" y="0.75" width="10.5" height="10.5" rx="1.6" fill="none" stroke="#4a7f36" stroke-width="1.5"/></svg>
<svg style="left:1123.0px;top:391.7px" width="12" height="12" viewBox="0 0 12 12"><rect x="0.75" y="0.75" width="10.5" height="10.5" rx="1.6" fill="none" stroke="#4a7f36" stroke-width="1.5"/></svg>
<svg style="left:1123.0px;top:407.7px" width="12" height="12" viewBox="0 0 12 12"><rect x="0.75" y="0.75" width="10.5" height="10.5" rx="1.6" fill="none" stroke="#4a7f36" stroke-width="1.5"/></svg>
<div style="left:1172px;top:422px;width:187px;height:111px;background:rgba(26,115,232,0.1);"></div>
<div style="left:1171px;top:421px;width:187px;height:111px;border:1px solid #1a73e8"></div>
<div style="left:1171px;top:421px;width:108px;height:15px;border:1px solid #1a73e8"></div>
<div style="left:1356.0px;top:530.0px;width:7px;height:7px;border-radius:50%;background:#0b57d0;box-shadow:0 0 0 1px #fff"></div>
<div style="left:0px;top:0px;width:1388px;height:18px;background:#ffffff;"></div>
<div style="left:0px;top:0px;width:11px;height:18px;background:#f8f9fa;"></div>
<div style="left:11px;top:0px;width:4px;height:18px;background:#c7c7c7;"></div>
<div style="left:0px;top:18px;width:1388px;height:1px;background:#c4c7c5;"></div>
<div class="h" style="left:15px;top:0;width:103px;color:#575757;font-weight:normal">C</div>
<div style="left:118px;top:0px;width:1px;height:18px;background:#c4c7c5;"></div>
<div class="h" style="left:119px;top:0;width:78px;color:#575757;font-weight:normal">D</div>
<div style="left:197px;top:0px;width:1px;height:18px;background:#c4c7c5;"></div>
<div class="h" style="left:198px;top:0;width:78px;color:#575757;font-weight:normal">E</div>
<div style="left:276px;top:0px;width:1px;height:18px;background:#c4c7c5;"></div>
<div class="h" style="left:277px;top:0;width:57px;color:#575757;font-weight:normal">F</div>
<div style="left:334px;top:0px;width:1px;height:18px;background:#c4c7c5;"></div>
<div class="h" style="left:335px;top:0;width:67px;color:#575757;font-weight:normal">G</div>
<div style="left:402px;top:0px;width:1px;height:18px;background:#c4c7c5;"></div>
<div class="h" style="left:403px;top:0;width:78px;color:#575757;font-weight:normal">H</div>
<div style="left:481px;top:0px;width:1px;height:18px;background:#c4c7c5;"></div>
<div class="h" style="left:482px;top:0;width:78px;color:#575757;font-weight:normal">I</div>
<div style="left:560px;top:0px;width:1px;height:18px;background:#c4c7c5;"></div>
<div class="h" style="left:561px;top:0;width:78px;color:#575757;font-weight:normal">J</div>
<div style="left:639px;top:0px;width:1px;height:18px;background:#c4c7c5;"></div>
<div class="h" style="left:640px;top:0;width:78px;color:#575757;font-weight:normal">K</div>
<div style="left:718px;top:0px;width:1px;height:18px;background:#c4c7c5;"></div>
<div class="h" style="left:719px;top:0;width:78px;color:#575757;font-weight:normal">L</div>
<div style="left:797px;top:0px;width:1px;height:18px;background:#c4c7c5;"></div>
<div class="h" style="left:798px;top:0;width:78px;color:#575757;font-weight:normal">M</div>
<div style="left:876px;top:0px;width:1px;height:18px;background:#c4c7c5;"></div>
<div class="h" style="left:877px;top:0;width:78px;color:#575757;font-weight:normal">N</div>
<div style="left:955px;top:0px;width:1px;height:18px;background:#c4c7c5;"></div>
<div class="h" style="left:956px;top:0;width:78px;color:#575757;font-weight:normal">O</div>
<div style="left:1034px;top:0px;width:1px;height:18px;background:#c4c7c5;"></div>
<div class="h" style="left:1035px;top:0;width:78px;color:#575757;font-weight:normal">P</div>
<div style="left:1113px;top:0px;width:1px;height:18px;background:#c4c7c5;"></div>
<div class="h" style="left:1114px;top:0;width:30px;color:#575757;font-weight:normal">Q</div>
<div style="left:1144px;top:0px;width:1px;height:18px;background:#c4c7c5;"></div>
<div class="h" style="left:1145px;top:0;width:26px;color:#575757;font-weight:normal">R</div>
<div style="left:1172px;top:0px;width:109px;height:18px;background:#d3e3fd;"></div>
<div style="left:1171px;top:0px;width:1px;height:18px;background:#c4c7c5;"></div>
<div class="h" style="left:1172px;top:0;width:108px;color:#041e49;font-weight:bold">S</div>
<div style="left:1281px;top:0px;width:79px;height:18px;background:#d3e3fd;"></div>
<div style="left:1280px;top:0px;width:1px;height:18px;background:#c4c7c5;"></div>
<div class="h" style="left:1281px;top:0;width:78px;color:#041e49;font-weight:bold">T</div>
<div style="left:1359px;top:0px;width:1px;height:18px;background:#c4c7c5;"></div>
<div class="h" style="left:1360px;top:0;width:31px;color:#575757;font-weight:normal">U</div>
<div style="left:1359px;top:0px;width:1px;height:18px;background:#c4c7c5;"></div>
<svg style="left:18.5px;top:7px" width="4" height="6" viewBox="0 0 4 6"><path d="M0.3 0.2 L3.8 2.9 L0.3 5.6 Z" fill="#444"/></svg>
<div style="left:0px;top:19px;width:14px;height:549px;background:#e7f6ec;"></div>
<div style="left:0px;top:422px;width:14px;height:112px;background:#c4eacf;"></div>
<div style="left:14px;top:19px;width:1px;height:549px;background:#c4c7c5;"></div>
<div style="left:0px;top:34px;width:14px;height:1px;background:#c4c7c5;"></div>
<div style="left:0px;top:53px;width:14px;height:1px;background:#c4c7c5;"></div>
<div style="left:0px;top:69px;width:14px;height:1px;background:#c4c7c5;"></div>
<div style="left:0px;top:85px;width:14px;height:1px;background:#c4c7c5;"></div>
<div style="left:0px;top:101px;width:14px;height:1px;background:#c4c7c5;"></div>
<div style="left:0px;top:117px;width:14px;height:1px;background:#c4c7c5;"></div>
<div style="left:0px;top:133px;width:14px;height:1px;background:#c4c7c5;"></div>
<div style="left:0px;top:149px;width:14px;height:1px;background:#c4c7c5;"></div>
<div style="left:0px;top:165px;width:14px;height:1px;background:#c4c7c5;"></div>
<div style="left:0px;top:181px;width:14px;height:1px;background:#c4c7c5;"></div>
<div style="left:0px;top:197px;width:14px;height:1px;background:#c4c7c5;"></div>
<div style="left:0px;top:213px;width:14px;height:1px;background:#c4c7c5;"></div>
<div style="left:0px;top:229px;width:14px;height:1px;background:#c4c7c5;"></div>
<div style="left:0px;top:245px;width:14px;height:1px;background:#c4c7c5;"></div>
<div style="left:0px;top:261px;width:14px;height:1px;background:#c4c7c5;"></div>
<div style="left:0px;top:277px;width:14px;height:1px;background:#c4c7c5;"></div>
<div style="left:0px;top:293px;width:14px;height:1px;background:#c4c7c5;"></div>
<div style="left:0px;top:309px;width:14px;height:1px;background:#c4c7c5;"></div>
<div style="left:0px;top:325px;width:14px;height:1px;background:#c4c7c5;"></div>
<div style="left:0px;top:341px;width:14px;height:1px;background:#c4c7c5;"></div>
<div style="left:0px;top:357px;width:14px;height:1px;background:#c4c7c5;"></div>
<div style="left:0px;top:373px;width:14px;height:1px;background:#c4c7c5;"></div>
<div style="left:0px;top:389px;width:14px;height:1px;background:#c4c7c5;"></div>
<div style="left:0px;top:405px;width:14px;height:1px;background:#c4c7c5;"></div>
<div style="left:0px;top:421px;width:14px;height:1px;background:#c4c7c5;"></div>
<div style="left:0px;top:437px;width:14px;height:1px;background:#c4c7c5;"></div>
<div style="left:0px;top:453px;width:14px;height:1px;background:#c4c7c5;"></div>
<div style="left:0px;top:469px;width:14px;height:1px;background:#c4c7c5;"></div>
<div style="left:0px;top:485px;width:14px;height:1px;background:#c4c7c5;"></div>
<div style="left:0px;top:501px;width:14px;height:1px;background:#c4c7c5;"></div>
<div style="left:0px;top:517px;width:14px;height:1px;background:#c4c7c5;"></div>
<div style="left:0px;top:533px;width:14px;height:1px;background:#c4c7c5;"></div>
<div style="left:0px;top:549px;width:14px;height:1px;background:#c4c7c5;"></div>
<div style="left:0px;top:565px;width:14px;height:1px;background:#c4c7c5;"></div>
<div style="left:0px;top:581px;width:14px;height:1px;background:#c4c7c5;"></div>
<div class="c" style="left:0;top:38px;width:14px;height:15px;font-size:8.5px;color:#5f6368"><span style="left:-33.25px;width:60px;text-align:center">2</span></div>
<div class="c" style="left:0;top:54px;width:14px;height:15px;font-size:8.5px;color:#5f6368"><span style="left:-33.25px;width:60px;text-align:center">3</span></div>
<div class="c" style="left:0;top:70px;width:14px;height:15px;font-size:8.5px;color:#5f6368"><span style="left:-33.25px;width:60px;text-align:center">4</span></div>
<div class="c" style="left:0;top:86px;width:14px;height:15px;font-size:8.5px;color:#5f6368"><span style="left:-33.25px;width:60px;text-align:center">5</span></div>
<div class="c" style="left:0;top:102px;width:14px;height:15px;font-size:8.5px;color:#5f6368"><span style="left:-33.25px;width:60px;text-align:center">6</span></div>
<div class="c" style="left:0;top:118px;width:14px;height:15px;font-size:8.5px;color:#5f6368"><span style="left:-33.25px;width:60px;text-align:center">7</span></div>
<div class="c" style="left:0;top:134px;width:14px;height:15px;font-size:8.5px;color:#5f6368"><span style="left:-33.25px;width:60px;text-align:center">8</span></div>
<div class="c" style="left:0;top:150px;width:14px;height:15px;font-size:8.5px;color:#5f6368"><span style="left:-33.25px;width:60px;text-align:center">9</span></div>
<div class="c" style="left:0;top:166px;width:14px;height:15px;font-size:8.5px;color:#5f6368"><span style="left:-33.25px;width:60px;text-align:center">10</span></div>
<div class="c" style="left:0;top:182px;width:14px;height:15px;font-size:8.5px;color:#5f6368"><span style="left:-33.25px;width:60px;text-align:center">11</span></div>
<div class="c" style="left:0;top:198px;width:14px;height:15px;font-size:8.5px;color:#5f6368"><span style="left:-33.25px;width:60px;text-align:center">12</span></div>
<div class="c" style="left:0;top:214px;width:14px;height:15px;font-size:8.5px;color:#5f6368"><span style="left:-33.25px;width:60px;text-align:center">13</span></div>
<div class="c" style="left:0;top:230px;width:14px;height:15px;font-size:8.5px;color:#5f6368"><span style="left:-33.25px;width:60px;text-align:center">14</span></div>
<div class="c" style="left:0;top:246px;width:14px;height:15px;font-size:8.5px;color:#5f6368"><span style="left:-33.25px;width:60px;text-align:center">15</span></div>
<div class="c" style="left:0;top:262px;width:14px;height:15px;font-size:8.5px;color:#5f6368"><span style="left:-33.25px;width:60px;text-align:center">16</span></div>
<div class="c" style="left:0;top:278px;width:14px;height:15px;font-size:8.5px;color:#5f6368"><span style="left:-33.25px;width:60px;text-align:center">17</span></div>
<div class="c" style="left:0;top:294px;width:14px;height:15px;font-size:8.5px;color:#5f6368"><span style="left:-33.25px;width:60px;text-align:center">18</span></div>
<div class="c" style="left:0;top:310px;width:14px;height:15px;font-size:8.5px;color:#5f6368"><span style="left:-33.25px;width:60px;text-align:center">19</span></div>
<div class="c" style="left:0;top:326px;width:14px;height:15px;font-size:8.5px;color:#5f6368"><span style="left:-33.25px;width:60px;text-align:center">20</span></div>
<div class="c" style="left:0;top:342px;width:14px;height:15px;font-size:8.5px;color:#5f6368"><span style="left:-33.25px;width:60px;text-align:center">21</span></div>
<div class="c" style="left:0;top:358px;width:14px;height:15px;font-size:8.5px;color:#5f6368"><span style="left:-33.25px;width:60px;text-align:center">22</span></div>
<div class="c" style="left:0;top:374px;width:14px;height:15px;font-size:8.5px;color:#5f6368"><span style="left:-33.25px;width:60px;text-align:center">23</span></div>
<div class="c" style="left:0;top:390px;width:14px;height:15px;font-size:8.5px;color:#5f6368"><span style="left:-33.25px;width:60px;text-align:center">24</span></div>
<div class="c" style="left:0;top:406px;width:14px;height:15px;font-size:8.5px;color:#5f6368"><span style="left:-33.25px;width:60px;text-align:center">25</span></div>
<div class="c" style="left:0;top:422px;width:14px;height:15px;font-size:8.5px;color:#5f6368"><span style="left:-33.25px;width:60px;text-align:center">26</span></div>
<div class="c" style="left:0;top:438px;width:14px;height:15px;font-size:8.5px;color:#5f6368"><span style="left:-33.25px;width:60px;text-align:center">27</span></div>
<div class="c" style="left:0;top:454px;width:14px;height:15px;font-size:8.5px;color:#5f6368"><span style="left:-33.25px;width:60px;text-align:center">28</span></div>
<div class="c" style="left:0;top:470px;width:14px;height:15px;font-size:8.5px;color:#5f6368"><span style="left:-33.25px;width:60px;text-align:center">29</span></div>
<div class="c" style="left:0;top:486px;width:14px;height:15px;font-size:8.5px;color:#5f6368"><span style="left:-33.25px;width:60px;text-align:center">30</span></div>
<div class="c" style="left:0;top:502px;width:14px;height:15px;font-size:8.5px;color:#5f6368"><span style="left:-33.25px;width:60px;text-align:center">31</span></div>
<div class="c" style="left:0;top:518px;width:14px;height:15px;font-size:8.5px;color:#5f6368"><span style="left:-33.25px;width:60px;text-align:center">32</span></div>
<div class="c" style="left:0;top:534px;width:14px;height:15px;font-size:8.5px;color:#5f6368"><span style="left:-33.25px;width:60px;text-align:center">33</span></div>
<div class="c" style="left:0;top:550px;width:14px;height:15px;font-size:8.5px;color:#5f6368"><span style="left:-33.25px;width:60px;text-align:center">34</span></div>
<div class="c" style="left:0;top:566px;width:14px;height:15px;font-size:8.5px;color:#5f6368"><span style="left:-33.25px;width:60px;text-align:center">35</span></div>
<div style="left:0px;top:35px;width:1388px;height:3px;background:#c7c7c7;"></div>
<svg style="left:563px;top:78px" width="14" height="20" viewBox="0 0 14 20"><path d="M1.5 2.6 L1.5 15.9 L4.6 13.1 L7 18.1 L9.2 17.1 L7 12.7 L11.9 12.7 Z" fill="#000" stroke="#fff" stroke-width="0.6"/></svg></body></html>
